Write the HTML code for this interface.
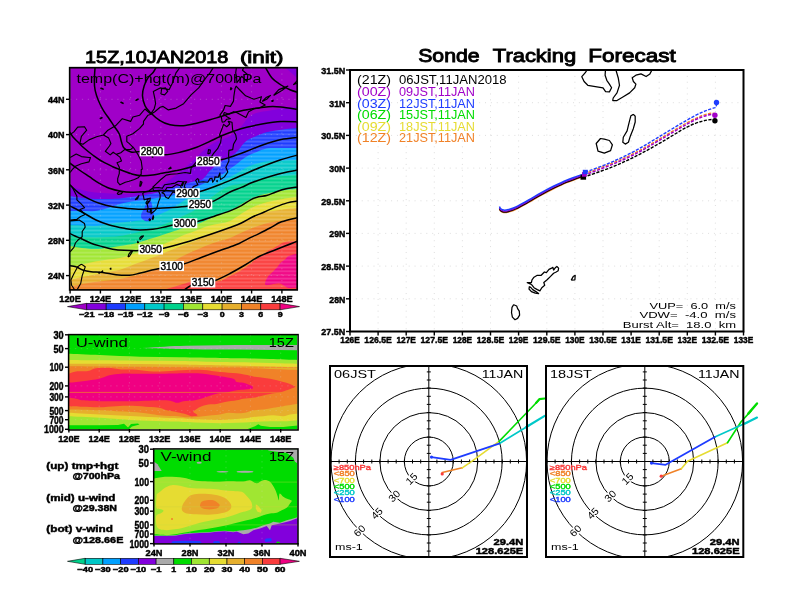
<!DOCTYPE html>
<html><head><meta charset="utf-8"><title>Sonde Tracking Forecast</title>
<style>html,body{margin:0;padding:0;background:#fff;overflow:hidden}svg{display:block}text{font-family:"Liberation Sans",sans-serif;white-space:pre}</style>
</head><body>
<svg width="792" height="612" viewBox="0 0 792 612" style="will-change:transform">
<rect width="792" height="612" fill="#fff"/>
<defs><clipPath id="cm"><rect x="70.1" y="67.6" width="226.9" height="222.1"/></clipPath></defs>
<g clip-path="url(#cm)">
<rect x="70.1" y="67.6" width="226.9" height="222.1" fill="#a000c8"/>
<path d="M70.0 186.0 C72.0 186.7 77.8 188.9 82.0 190.0 C86.2 191.1 90.3 191.9 95.0 192.5 C99.7 193.1 105.8 193.2 110.0 193.5 C114.2 193.8 115.8 194.0 120.0 194.0 C124.2 194.0 130.8 194.0 135.0 193.5 C139.2 193.0 140.8 192.2 145.0 191.0 C149.2 189.8 155.5 188.2 160.0 186.0 C164.5 183.8 167.8 181.0 172.0 178.0 C176.2 175.0 180.7 171.7 185.0 168.0 C189.3 164.3 194.8 158.8 197.8 156.0 C200.8 153.2 201.0 152.7 203.0 151.0 C205.0 149.3 207.4 147.3 209.6 145.8 C211.8 144.3 213.8 142.9 216.0 141.8 C218.2 140.7 220.5 140.1 222.7 139.2 C224.9 138.3 227.0 137.8 229.2 136.6 C231.4 135.4 234.1 133.4 235.8 132.0 C237.6 130.6 238.4 129.4 239.7 128.0 C241.0 126.6 242.3 125.1 243.6 123.5 C244.9 121.9 246.0 119.8 247.5 118.3 C249.0 116.8 250.5 115.5 252.7 114.4 C254.9 113.4 257.7 112.7 260.6 112.0 C263.5 111.3 266.3 111.1 270.0 110.5 C273.7 109.9 278.3 109.1 283.0 108.5 C287.7 107.9 295.5 107.2 298.0 107.0 L298.0 292 L70.0 292 Z" fill="#8200dc"/>
<path d="M70.0 196.0 C72.0 196.3 77.8 197.5 82.0 198.0 C86.2 198.5 90.3 198.8 95.0 199.0 C99.7 199.2 105.8 199.1 110.0 199.0 C114.2 198.9 115.8 198.9 120.0 198.5 C124.2 198.1 130.8 197.1 135.0 196.5 C139.2 195.9 140.8 195.8 145.0 195.0 C149.2 194.2 155.5 193.2 160.0 192.0 C164.5 190.8 167.8 189.3 172.0 188.0 C176.2 186.7 181.2 185.2 185.0 184.0 C188.8 182.8 192.0 181.8 195.0 181.0 C198.0 180.2 200.6 180.7 203.0 179.0 C205.4 177.3 207.4 173.3 209.6 171.0 C211.8 168.7 214.0 167.0 216.0 165.4 C218.0 163.8 219.6 162.5 221.4 161.4 C223.2 160.3 224.7 159.9 226.6 158.8 C228.5 157.7 231.0 156.4 233.0 155.0 C235.0 153.6 236.8 152.0 238.4 150.3 C240.0 148.6 240.8 146.7 242.3 145.0 C243.8 143.3 245.3 141.4 247.5 140.0 C249.7 138.6 252.8 137.6 255.4 136.5 C258.0 135.4 260.8 134.1 263.2 133.3 C265.6 132.5 266.7 132.1 270.0 131.5 C273.3 130.9 278.3 130.1 283.0 129.5 C287.7 128.9 295.5 128.2 298.0 128.0 L298.0 292 L70.0 292 Z" fill="#1e3cff"/>
<path d="M70.0 211.0 C72.0 211.0 77.8 211.0 82.0 211.0 C86.2 211.0 90.7 211.5 95.0 211.0 C99.3 210.5 103.8 209.2 108.0 208.0 C112.2 206.8 115.5 205.2 120.0 204.0 C124.5 202.8 130.8 201.7 135.0 201.0 C139.2 200.3 140.8 200.6 145.0 200.0 C149.2 199.4 155.8 198.2 160.0 197.5 C164.2 196.8 165.8 197.1 170.0 196.0 C174.2 194.9 180.8 192.4 185.0 191.0 C189.2 189.6 191.7 188.8 195.0 187.5 C198.3 186.2 201.5 184.5 205.0 183.0 C208.5 181.5 213.3 179.7 216.0 178.4 C218.7 177.1 219.6 176.2 221.4 175.0 C223.2 173.8 224.7 172.6 226.6 171.2 C228.5 169.8 231.0 168.1 233.0 166.7 C235.0 165.3 236.8 163.9 238.4 162.7 C240.0 161.5 240.8 160.6 242.3 159.5 C243.8 158.4 245.3 157.2 247.5 156.0 C249.7 154.8 252.8 153.6 255.4 152.5 C258.0 151.4 260.8 150.2 263.2 149.5 C265.6 148.8 266.7 148.2 270.0 148.0 C273.3 147.8 278.3 148.0 283.0 148.0 C287.7 148.0 295.5 148.0 298.0 148.0 L298.0 292 L70.0 292 Z" fill="#00a0ff"/>
<path d="M70.0 225.0 C72.0 225.1 77.8 225.3 82.0 225.5 C86.2 225.7 90.7 226.2 95.0 226.0 C99.3 225.8 103.8 224.6 108.0 224.0 C112.2 223.4 115.5 223.0 120.0 222.5 C124.5 222.0 130.8 221.5 135.0 221.0 C139.2 220.5 141.2 220.5 145.0 219.5 C148.8 218.5 153.8 216.7 158.0 215.0 C162.2 213.3 165.5 212.0 170.0 209.5 C174.5 207.0 180.8 202.6 185.0 200.0 C189.2 197.4 191.2 196.0 195.0 194.0 C198.8 192.0 203.8 190.0 208.0 188.0 C212.2 186.0 216.5 183.8 220.0 182.0 C223.5 180.2 226.6 178.8 229.2 177.4 C231.8 176.1 233.5 175.1 235.7 173.9 C237.9 172.7 240.3 171.2 242.3 170.0 C244.3 168.8 245.3 168.0 247.5 167.0 C249.7 166.0 252.8 164.8 255.4 164.0 C258.0 163.2 260.8 162.5 263.2 162.0 C265.6 161.5 266.7 161.2 270.0 161.0 C273.3 160.8 278.3 160.7 283.0 160.5 C287.7 160.3 295.5 160.1 298.0 160.0 L298.0 292 L70.0 292 Z" fill="#00c8c8"/>
<path d="M70.0 236.0 C72.0 236.2 77.8 236.8 82.0 237.0 C86.2 237.2 90.7 237.5 95.0 237.5 C99.3 237.5 103.8 237.2 108.0 237.0 C112.2 236.8 115.5 236.7 120.0 236.0 C124.5 235.3 130.8 234.0 135.0 233.0 C139.2 232.0 141.2 231.1 145.0 230.0 C148.8 228.9 153.8 227.8 158.0 226.5 C162.2 225.2 165.5 223.9 170.0 222.0 C174.5 220.1 180.8 217.0 185.0 215.0 C189.2 213.0 191.2 212.5 195.0 210.0 C198.8 207.5 203.8 203.2 208.0 200.0 C212.2 196.8 216.3 193.3 220.0 191.0 C223.7 188.7 226.7 187.2 230.0 186.0 C233.3 184.8 236.7 184.6 240.0 184.0 C243.3 183.4 247.2 183.2 250.0 182.5 C252.8 181.8 254.8 180.8 257.0 180.0 C259.2 179.2 260.8 178.5 263.0 178.0 C265.2 177.5 266.7 177.3 270.0 177.0 C273.3 176.7 278.3 176.3 283.0 176.0 C287.7 175.7 295.5 175.2 298.0 175.0 L298.0 292 L70.0 292 Z" fill="#00d28c"/>
<path d="M70.0 246.0 C72.0 246.3 77.8 247.5 82.0 248.0 C86.2 248.5 90.7 249.0 95.0 249.0 C99.3 249.0 103.8 248.5 108.0 248.0 C112.2 247.5 115.5 246.8 120.0 246.0 C124.5 245.2 130.8 244.4 135.0 243.5 C139.2 242.6 141.2 241.7 145.0 240.5 C148.8 239.3 153.8 237.8 158.0 236.5 C162.2 235.2 165.5 234.0 170.0 232.5 C174.5 231.0 180.8 228.8 185.0 227.5 C189.2 226.2 191.2 226.3 195.0 225.0 C198.8 223.7 203.8 221.3 208.0 219.5 C212.2 217.7 216.3 215.4 220.0 214.0 C223.7 212.6 225.8 213.0 230.0 211.0 C234.2 209.0 240.3 204.5 245.0 202.0 C249.7 199.5 253.8 197.5 258.0 196.0 C262.2 194.5 265.8 193.9 270.0 193.0 C274.2 192.1 278.3 191.2 283.0 190.5 C287.7 189.8 295.5 189.2 298.0 189.0 L298.0 292 L70.0 292 Z" fill="#a0e632"/>
<path d="M70.0 267.0 C72.0 266.6 77.8 265.4 82.0 264.5 C86.2 263.6 90.7 262.3 95.0 261.5 C99.3 260.7 103.8 260.1 108.0 259.5 C112.2 258.9 115.5 259.0 120.0 258.0 C124.5 257.0 130.8 254.8 135.0 253.5 C139.2 252.2 141.2 251.8 145.0 250.5 C148.8 249.2 153.8 247.5 158.0 246.0 C162.2 244.5 165.5 243.4 170.0 241.5 C174.5 239.6 180.8 236.2 185.0 234.5 C189.2 232.8 191.2 232.4 195.0 231.0 C198.8 229.6 203.8 227.2 208.0 226.0 C212.2 224.8 216.3 224.3 220.0 223.5 C223.7 222.7 225.8 223.0 230.0 221.0 C234.2 219.0 240.3 214.2 245.0 211.5 C249.7 208.8 253.8 206.7 258.0 205.0 C262.2 203.3 265.8 202.5 270.0 201.5 C274.2 200.5 278.3 199.8 283.0 199.0 C287.7 198.2 295.5 197.3 298.0 197.0 L298.0 292 L70.0 292 Z" fill="#e6dc32"/>
<path d="M70.0 280.0 C72.0 279.5 77.8 277.9 82.0 277.0 C86.2 276.1 90.7 275.3 95.0 274.5 C99.3 273.7 103.8 272.8 108.0 272.0 C112.2 271.2 115.5 271.1 120.0 269.8 C124.5 268.5 130.8 265.6 135.0 264.0 C139.2 262.4 141.2 261.9 145.0 260.5 C148.8 259.1 153.8 257.2 158.0 255.5 C162.2 253.8 165.5 252.3 170.0 250.5 C174.5 248.7 180.8 246.1 185.0 244.5 C189.2 242.9 191.2 242.6 195.0 241.0 C198.8 239.4 203.8 236.7 208.0 235.0 C212.2 233.3 216.3 232.2 220.0 231.0 C223.7 229.8 225.8 229.8 230.0 228.0 C234.2 226.2 240.3 222.8 245.0 220.5 C249.7 218.2 253.8 216.0 258.0 214.5 C262.2 213.0 265.8 212.3 270.0 211.5 C274.2 210.7 278.3 210.1 283.0 209.5 C287.7 208.9 295.5 208.2 298.0 208.0 L298.0 292 L70.0 292 Z" fill="#e6af2d"/>
<path d="M70.0 287.0 C72.0 286.5 77.8 284.8 82.0 284.0 C86.2 283.2 90.7 282.6 95.0 282.0 C99.3 281.4 103.8 281.0 108.0 280.5 C112.2 280.0 115.5 279.8 120.0 279.0 C124.5 278.2 130.8 276.5 135.0 275.5 C139.2 274.5 141.2 274.2 145.0 273.0 C148.8 271.8 153.8 270.2 158.0 268.5 C162.2 266.8 165.5 265.2 170.0 263.0 C174.5 260.8 180.8 257.1 185.0 255.0 C189.2 252.9 191.2 252.2 195.0 250.5 C198.8 248.8 203.8 246.6 208.0 245.0 C212.2 243.4 216.3 242.2 220.0 241.0 C223.7 239.8 225.8 239.7 230.0 238.0 C234.2 236.3 240.3 233.0 245.0 231.0 C249.7 229.0 253.8 227.4 258.0 226.0 C262.2 224.6 265.8 223.4 270.0 222.5 C274.2 221.6 278.3 221.1 283.0 220.5 C287.7 219.9 295.5 219.2 298.0 219.0 L298.0 292 L70.0 292 Z" fill="#f08228"/>
<path d="M160.0 291.0 C161.7 290.5 165.8 289.2 170.0 288.0 C174.2 286.8 180.8 284.8 185.0 283.5 C189.2 282.2 191.2 280.9 195.0 280.5 C198.8 280.1 203.8 280.9 208.0 281.0 C212.2 281.1 216.5 281.8 220.0 281.0 C223.5 280.2 225.9 278.0 229.0 276.5 C232.1 275.0 235.2 273.8 238.3 272.0 C241.4 270.2 244.8 267.9 247.5 266.0 C250.2 264.1 252.0 262.2 254.3 260.5 C256.6 258.8 258.9 257.6 261.2 256.0 C263.5 254.4 265.9 252.0 268.0 250.7 C270.1 249.4 271.9 249.0 273.8 248.0 C275.7 247.0 277.6 245.5 279.5 244.5 C281.4 243.5 282.1 242.6 285.2 242.0 C288.3 241.4 295.9 241.2 298.0 241.0 L298.0 292 L160.0 292 Z" fill="#fa3c3c"/>
<path d="M298.0 253.6 C296.4 254.0 290.7 255.1 288.6 256.0 C286.5 256.9 286.5 258.2 285.2 259.3 C283.9 260.4 281.9 261.5 280.6 262.8 C279.3 264.1 278.5 265.8 277.2 267.3 C275.9 268.8 274.1 270.5 272.6 272.0 C271.1 273.5 269.2 274.8 268.0 276.5 C266.8 278.2 265.6 280.8 265.2 282.2 C264.8 283.6 264.8 284.6 265.8 285.0 C266.9 285.4 269.2 284.8 271.5 284.5 C273.8 284.2 277.4 283.2 279.5 283.4 C281.6 283.6 282.5 284.8 284.0 285.6 C285.5 286.4 286.3 287.7 288.6 288.0 C290.9 288.3 296.4 287.5 298.0 287.4 Z" fill="#f00082"/>
<path d="M283 66 C288 70 293 74 298 79 L298 66 Z" fill="#8200dc"/>
<path d="M147 199 C151 199 153 204 152 209 C155 212 154 219 150 221 C146 222 141 220 141 216 C141 211 146 209 147 199 Z" fill="#1e3cff"/>
<defs><pattern id="st" width="4" height="1.37" patternUnits="userSpaceOnUse"><rect width="4" height="0.45" fill="#fff" fill-opacity="0.3"/></pattern></defs>
<path d="M70.0 196.0 C72.0 196.3 77.8 197.5 82.0 198.0 C86.2 198.5 90.3 198.8 95.0 199.0 C99.7 199.2 105.8 199.1 110.0 199.0 C114.2 198.9 115.8 198.9 120.0 198.5 C124.2 198.1 130.8 197.1 135.0 196.5 C139.2 195.9 140.8 195.8 145.0 195.0 C149.2 194.2 155.5 193.2 160.0 192.0 C164.5 190.8 167.8 189.3 172.0 188.0 C176.2 186.7 181.2 185.2 185.0 184.0 C188.8 182.8 192.0 181.8 195.0 181.0 C198.0 180.2 200.6 180.7 203.0 179.0 C205.4 177.3 207.4 173.3 209.6 171.0 C211.8 168.7 214.0 167.0 216.0 165.4 C218.0 163.8 219.6 162.5 221.4 161.4 C223.2 160.3 224.7 159.9 226.6 158.8 C228.5 157.7 231.0 156.4 233.0 155.0 C235.0 153.6 236.8 152.0 238.4 150.3 C240.0 148.6 240.8 146.7 242.3 145.0 C243.8 143.3 245.3 141.4 247.5 140.0 C249.7 138.6 252.8 137.6 255.4 136.5 C258.0 135.4 260.8 134.1 263.2 133.3 C265.6 132.5 266.7 132.1 270.0 131.5 C273.3 130.9 278.3 130.1 283.0 129.5 C287.7 128.9 295.5 128.2 298.0 128.0 L298 292 L70 292 Z" fill="url(#st)"/>
<line x1="100.4" y1="67.6" x2="100.4" y2="289.7" stroke="#dcdcdc" stroke-opacity="0.32" stroke-width="0.9" stroke-dasharray="1.2 4.7"/>
<line x1="130.6" y1="67.6" x2="130.6" y2="289.7" stroke="#dcdcdc" stroke-opacity="0.32" stroke-width="0.9" stroke-dasharray="1.2 4.7"/>
<line x1="160.9" y1="67.6" x2="160.9" y2="289.7" stroke="#dcdcdc" stroke-opacity="0.32" stroke-width="0.9" stroke-dasharray="1.2 4.7"/>
<line x1="191.1" y1="67.6" x2="191.1" y2="289.7" stroke="#dcdcdc" stroke-opacity="0.32" stroke-width="0.9" stroke-dasharray="1.2 4.7"/>
<line x1="221.4" y1="67.6" x2="221.4" y2="289.7" stroke="#dcdcdc" stroke-opacity="0.32" stroke-width="0.9" stroke-dasharray="1.2 4.7"/>
<line x1="251.6" y1="67.6" x2="251.6" y2="289.7" stroke="#dcdcdc" stroke-opacity="0.32" stroke-width="0.9" stroke-dasharray="1.2 4.7"/>
<line x1="281.9" y1="67.6" x2="281.9" y2="289.7" stroke="#dcdcdc" stroke-opacity="0.32" stroke-width="0.9" stroke-dasharray="1.2 4.7"/>
<line x1="70.1" y1="275.6" x2="297" y2="275.6" stroke="#dcdcdc" stroke-opacity="0.32" stroke-width="0.9" stroke-dasharray="1.2 4.7"/>
<line x1="70.1" y1="240.3" x2="297" y2="240.3" stroke="#dcdcdc" stroke-opacity="0.32" stroke-width="0.9" stroke-dasharray="1.2 4.7"/>
<line x1="70.1" y1="205.1" x2="297" y2="205.1" stroke="#dcdcdc" stroke-opacity="0.32" stroke-width="0.9" stroke-dasharray="1.2 4.7"/>
<line x1="70.1" y1="169.8" x2="297" y2="169.8" stroke="#dcdcdc" stroke-opacity="0.32" stroke-width="0.9" stroke-dasharray="1.2 4.7"/>
<line x1="70.1" y1="134.6" x2="297" y2="134.6" stroke="#dcdcdc" stroke-opacity="0.32" stroke-width="0.9" stroke-dasharray="1.2 4.7"/>
<line x1="70.1" y1="99.3" x2="297" y2="99.3" stroke="#dcdcdc" stroke-opacity="0.32" stroke-width="0.9" stroke-dasharray="1.2 4.7"/>
<path d="M152.5 187.5 L156.3 183.9 L160.9 179.5 L166.2 175.1 L170.7 174.2 L177.5 173.8 L185.1 172.5 L190.4 173.4 L191.1 168.1 L196.4 161.9 L197.2 158.4 L200.9 156.6 L199.4 160.1 L198.7 162.8 L205.5 161.0 L210.8 157.5 L213.8 153.1 L217.6 148.7 L220.6 142.5 L221.4 137.2 L219.5 135.0 L221.4 130.2 L223.6 124.4 L226.7 126.7 L229.7 124.0 L228.2 121.4 L232.0 122.2 L232.7 130.2 L235.7 134.6 L236.5 139.0 L233.5 144.3 L232.7 149.6 L228.9 150.4 L228.6 154.9 L228.9 161.0 L225.9 167.2 L227.8 172.0 L224.4 176.9 L220.6 179.5 L219.9 176.0 L219.9 172.9 L218.7 176.0 L218.3 177.3 L214.9 176.9 L214.6 179.5 L212.7 182.2 L211.9 178.2 L210.0 178.6 L207.8 182.2 L203.2 181.7 L198.7 182.2 L198.7 179.5 L197.5 178.6 L195.7 180.4 L197.9 184.8 L193.4 186.6 L189.6 191.9 L186.6 190.1 L184.3 186.6 L185.1 183.9 L186.6 181.7 L182.8 181.7 L178.3 181.3 L175.2 183.1 L170.7 183.9 L164.6 184.8 L162.4 188.3 L158.6 187.5 L153.3 187.9 L152.5 187.5M152.5 188.3 L154.1 191.0 L158.6 191.0 L160.1 194.5 L160.1 198.0 L158.6 201.6 L156.7 208.6 L154.1 211.3 L151.0 213.9 L151.4 210.4 L150.3 208.6 L150.6 212.1 L147.2 211.7 L148.0 207.7 L147.2 204.2 L149.9 200.7 L150.3 198.0 L147.2 199.8 L148.4 198.5 L144.2 199.8 L143.5 196.3 L142.7 193.6 L144.6 191.9 L148.8 191.0 L152.5 188.3M161.6 192.8 L165.0 191.0 L166.9 187.5 L172.2 187.5 L176.7 184.4 L180.5 185.7 L181.7 189.2 L177.5 193.6 L173.0 191.9 L168.4 198.5 L165.8 197.2 L163.9 193.6 L161.6 192.8M222.1 122.2 L221.4 117.0 L219.9 115.2 L223.6 109.9 L225.1 105.5 L230.4 106.4 L233.5 101.1 L233.8 96.7 L235.0 88.8 L236.1 86.1 L240.3 90.5 L245.6 95.8 L253.9 99.3 L261.5 96.7 L259.9 102.0 L265.2 105.1 L259.2 108.1 L254.6 108.6 L248.6 111.7 L245.9 117.4 L236.5 112.5 L233.5 111.7 L228.9 114.3 L224.4 112.5 L223.6 114.3 L227.4 117.0 L230.4 118.7 L226.7 119.2 L224.4 121.8 L222.1 122.2M70.1 134.6 L73.9 131.9 L77.7 127.1 L84.5 126.7 L86.7 130.2 L81.4 136.3 L79.9 143.4 L83.0 144.3 L89.0 139.9 L96.6 136.8 L103.4 135.0 L108.7 138.1 L110.9 143.4 L109.4 146.0 L105.3 151.3 L110.2 154.9 L113.2 152.2 L116.2 154.4 L120.0 157.1 L121.5 161.0 L117.0 162.8 L119.3 167.2 L119.3 173.4 L117.7 178.6 L117.7 182.2 L120.0 184.8 L125.3 182.2 L129.1 181.3 L134.4 179.5 L138.2 177.8 L141.2 174.2 L141.2 169.8 L142.3 169.0 L141.2 161.0 L138.2 154.9 L133.6 147.8 L129.1 143.4 L126.8 141.6 L126.8 136.3 L132.9 133.7 L139.7 128.4 L143.5 124.0 L143.5 121.4 L148.0 115.2 L151.0 114.3 L154.8 111.7 L160.1 107.3 L163.1 106.4 L168.4 109.9 L176.0 108.1 L183.6 103.7 L191.1 94.9 L198.7 87.9 L206.2 77.3 L210.0 72.9 L213.8 66.7M70.1 157.5 L76.2 154.0 L81.4 156.6 L89.0 157.5 L90.5 157.5 L89.0 161.9 L81.4 163.7 L75.4 166.3 L72.4 169.4 L70.1 172.5M70.1 184.8 L72.4 187.5 L76.9 196.3 L76.9 199.8 L81.4 204.2 L84.5 207.7 L79.9 209.5 L84.5 213.9 L84.5 214.8 L80.7 216.5 L76.9 219.2 L70.1 220.1M70.1 221.0 L79.2 220.1 L84.5 223.6 L85.2 227.1 L82.2 231.5 L82.2 236.8 L77.7 240.3 L75.4 243.0 L73.9 247.4 L70.1 251.8M81.4 264.1 L85.2 266.8 L84.1 270.3 L82.2 275.6 L80.7 283.5 L76.9 290.1 L76.5 294.1 L74.6 289.7 L71.6 285.3 L70.9 280.0 L73.9 273.8 L77.7 266.8 L81.4 264.1M236.5 66.7 L235.7 72.9 L236.5 76.4 L236.9 82.6 L241.8 76.4 L247.1 81.7 L247.8 74.7 L242.5 70.2 L244.1 66.7M117.0 193.6 L119.3 191.4 L122.7 191.9 L121.5 193.6 L118.5 194.5 L117.0 193.6M139.7 186.6 L140.4 181.3 L142.0 182.2 L140.8 185.7 L139.7 186.6M207.8 154.0 L208.5 149.6 L210.4 150.0 L210.0 153.1 L207.8 154.0M128.0 257.1 L128.7 254.4 L130.6 251.8 L132.9 250.5 L131.4 253.1 L129.5 256.2 L128.0 257.1M139.3 238.6 L141.2 236.4 L143.5 235.9 L141.6 238.1 L140.4 239.5 L139.3 238.6M137.4 243.0 L137.8 241.2 L138.5 242.5 L137.4 243.0M148.8 220.1 L149.5 218.8 L150.6 219.6 L149.9 220.7 L148.8 220.1M152.2 219.2 L153.3 215.7 L153.7 217.4 L152.9 219.6 L152.2 219.2M135.1 199.8 L136.7 198.0 L138.9 195.4 L137.4 198.9 L135.1 199.8M101.1 272.5 L102.6 270.8 L102.6 272.5 L101.1 272.5M98.1 273.0 L99.2 272.1 L99.6 273.1 L98.1 273.0M109.8 269.0 L110.9 268.1 L110.9 269.3 L109.8 269.0M262.2 101.5 L266.0 97.6 L270.5 95.4 L266.7 99.3 L262.2 101.5M273.6 95.4 L278.8 89.6 L287.9 86.1 L281.9 90.5 L273.6 95.4M293.2 84.8 L297.0 80.8 L300.8 79.9 L297.0 83.0 L293.2 84.8M271.3 101.1 L273.2 100.2 L272.8 101.5 L271.3 101.1M230.1 89.6 L231.2 88.3 L231.2 89.6 L230.1 89.6M168.4 169.0 L170.7 167.2 L171.1 168.5 L168.4 169.0M151.8 157.1 L152.5 156.2 L152.9 157.1 L151.8 157.1M181.3 185.3 L182.8 182.2 L183.6 182.6 L182.4 185.7 L181.3 185.3M145.7 203.3 L147.2 200.7 L148.8 201.6 L146.5 203.8 L145.7 203.3M216.5 181.3 L217.2 180.4 L217.2 181.7 L216.5 181.3M103.4 135.0 L107.9 130.2 L115.5 125.8 L122.3 118.7 L130.6 121.4 L132.9 117.0 L139.7 115.2 L145.0 109.0 L151.0 114.3M151.0 113.4 L154.1 109.0 L155.6 103.7 L154.8 98.4 L153.3 91.4 L160.1 87.9 L169.2 89.6 L172.2 83.5 L176.0 72.9 L180.5 66.7M160.9 94.0 L161.6 88.8 L165.4 87.9 L167.7 91.4 L164.6 94.9 L160.9 94.0M116.2 154.4 L120.8 152.7 L124.6 149.6 L130.6 149.6 L133.6 146.9" fill="none" stroke="#000" stroke-width="1.15" stroke-linejoin="round"/>
<path d="M101 88.3 l2 0.8 M121 102.3 l2 1 M136 100.2 l2 -1 M100.3 118.5 l1.6 -0.8 M230.7 88 l1 0.6" stroke="#000" stroke-width="1.6" stroke-linecap="round" fill="none"/>
<path d="M264.7 66.0 C265.9 68.0 269.3 74.8 272.0 78.0 C274.7 81.2 278.0 83.0 281.0 85.0 C284.0 87.0 287.2 88.5 290.0 89.7 C292.8 90.9 296.7 92.0 298.0 92.4" fill="none" stroke="#000" stroke-width="1.5"/>
<path d="M156.7 66.0 C156.1 67.0 154.7 70.4 153.3 72.3 C151.9 74.2 149.8 75.1 148.3 77.3 C146.8 79.5 145.2 82.6 144.2 85.7 C143.2 88.8 142.4 92.4 142.5 95.7 C142.6 99.0 143.8 102.9 145.0 105.7 C146.2 108.5 147.5 109.8 150.0 112.3 C152.5 114.8 156.7 118.6 160.0 120.7 C163.3 122.8 166.1 124.0 170.0 124.8 C173.9 125.6 178.9 126.0 183.3 125.7 C187.8 125.4 192.2 124.2 196.7 123.2 C201.1 122.2 206.1 120.9 210.0 119.8 C213.9 118.7 215.7 118.1 220.0 116.8 C224.3 115.5 230.3 113.4 236.0 112.0 C241.7 110.6 248.6 109.4 254.0 108.5 C259.4 107.6 263.8 107.0 268.3 106.7 C272.8 106.5 276.1 106.5 281.0 107.0 C285.9 107.5 295.2 109.0 298.0 109.4" fill="none" stroke="#000" stroke-width="1.5"/>
<path d="M95.2 66.0 C95.0 68.5 94.3 76.6 94.3 80.7 C94.3 84.8 94.5 87.4 95.2 90.7 C95.9 94.0 97.1 97.4 98.5 100.7 C99.9 104.0 101.7 107.7 103.5 110.7 C105.3 113.8 107.5 116.4 109.3 119.0 C111.1 121.6 112.6 124.0 114.3 126.5 C116.0 129.0 118.1 131.4 119.3 134.0 C120.5 136.6 120.7 139.7 121.5 142.0 C122.3 144.3 122.4 146.3 124.0 148.0 C125.6 149.7 128.3 151.4 131.0 152.0 C133.7 152.6 136.5 151.6 140.0 151.5 C143.5 151.4 148.0 150.8 152.0 151.3 C156.0 151.9 159.5 154.6 164.2 154.8 C168.9 155.0 174.6 153.6 180.0 152.3 C185.4 151.1 191.1 149.4 196.7 147.3 C202.2 145.2 209.1 141.7 213.3 139.8 C217.5 137.9 218.1 137.2 221.7 135.7 C225.3 134.2 230.8 132.1 235.0 130.7 C239.2 129.3 242.2 128.4 246.7 127.3 C251.2 126.2 256.3 125.0 262.0 124.0 C267.7 123.0 275.0 121.8 281.0 121.5 C287.0 121.2 295.2 121.9 298.0 122.0" fill="none" stroke="#000" stroke-width="1.5"/>
<path d="M69.0 131.0 C69.7 132.0 71.5 135.2 73.0 137.0 C74.5 138.8 75.8 139.8 77.7 141.7 C79.6 143.6 81.8 146.1 84.3 148.3 C86.8 150.5 89.6 152.8 92.7 155.0 C95.8 157.2 99.4 159.8 102.7 161.7 C106.0 163.6 109.7 165.3 112.7 166.7 C115.8 168.1 117.7 168.8 121.0 170.0 C124.3 171.2 129.1 173.2 132.7 174.2 C136.3 175.2 139.4 175.7 142.7 175.8 C146.0 175.9 148.8 175.6 152.7 175.0 C156.6 174.4 161.0 173.5 166.0 172.5 C171.0 171.5 177.4 170.4 182.7 169.2 C188.0 167.9 193.8 166.3 198.0 165.0 C202.2 163.7 204.2 162.4 208.0 161.5 C211.8 160.6 217.1 160.5 220.8 159.8 C224.5 159.1 225.7 158.7 230.0 157.3 C234.3 155.9 241.4 153.3 246.7 151.3 C252.0 149.3 256.3 147.2 262.0 145.2 C267.7 143.2 275.0 140.8 281.0 139.5 C287.0 138.2 295.2 137.7 298.0 137.3" fill="none" stroke="#000" stroke-width="1.5"/>
<path d="M69.0 162.5 C70.7 163.8 75.9 167.6 79.3 170.0 C82.7 172.4 86.0 174.5 89.3 176.7 C92.6 178.9 96.0 181.4 99.3 183.3 C102.6 185.2 105.7 187.0 109.3 188.3 C112.9 189.6 117.1 190.6 121.0 191.3 C124.9 192.0 128.5 192.2 132.7 192.3 C136.9 192.4 141.6 192.0 146.0 191.7 C150.4 191.4 154.6 190.6 159.3 190.5 C164.0 190.4 169.6 190.6 174.3 191.0 C179.0 191.4 183.2 192.9 187.5 193.0 C191.8 193.1 194.6 192.9 200.0 191.5 C205.4 190.1 213.3 187.1 220.0 184.5 C226.7 181.9 233.3 178.8 240.0 176.0 C246.7 173.2 253.3 170.2 260.0 167.5 C266.7 164.8 273.7 162.1 280.0 160.0 C286.3 157.9 295.0 155.8 298.0 155.0" fill="none" stroke="#000" stroke-width="1.5"/>
<path d="M69.0 184.0 C70.7 185.6 75.9 190.8 79.3 193.3 C82.7 195.8 86.0 197.5 89.3 199.2 C92.6 200.9 95.4 202.1 99.3 203.3 C103.2 204.6 108.2 205.9 112.7 206.7 C117.2 207.5 121.3 207.9 126.0 208.3 C130.7 208.7 136.0 209.2 141.0 209.2 C146.0 209.2 150.7 208.6 156.0 208.3 C161.3 208.0 167.3 207.9 172.7 207.5 C178.1 207.1 183.9 206.6 188.5 206.0 C193.1 205.4 196.0 204.8 200.0 204.0 C204.0 203.2 207.5 203.5 212.5 201.5 C217.5 199.5 225.2 194.3 230.0 192.0 C234.8 189.7 237.6 189.0 241.4 187.4 C245.2 185.8 248.1 184.1 252.9 182.3 C257.7 180.5 264.6 178.1 270.0 176.5 C275.4 174.9 280.3 173.6 285.0 172.5 C289.7 171.4 295.8 170.4 298.0 170.0" fill="none" stroke="#000" stroke-width="1.5"/>
<path d="M69.0 205.5 C71.3 206.7 78.2 210.1 82.7 212.5 C87.2 214.9 91.6 217.9 96.0 220.0 C100.4 222.1 104.6 223.6 109.3 225.0 C114.0 226.4 119.8 227.5 124.3 228.3 C128.8 229.1 131.3 229.7 136.0 229.8 C140.7 230.0 147.7 229.7 152.7 229.2 C157.7 228.7 162.5 227.4 166.0 226.7 C169.5 226.0 170.5 225.6 173.7 225.0 C176.9 224.4 181.0 223.6 185.0 223.0 C189.0 222.4 192.5 222.7 197.5 221.5 C202.5 220.3 209.6 217.8 215.0 216.0 C220.4 214.2 225.6 212.6 230.0 210.9 C234.4 209.2 238.0 207.5 241.4 205.7 C244.8 203.8 247.7 201.3 250.6 199.8 C253.5 198.3 255.9 197.5 258.6 196.8 C261.3 196.1 263.7 196.3 266.6 195.5 C269.5 194.7 272.4 193.2 275.8 192.0 C279.2 190.8 283.5 189.4 287.2 188.6 C290.9 187.8 296.2 187.3 298.0 187.0" fill="none" stroke="#000" stroke-width="1.5"/>
<path d="M69.0 233.0 C70.0 233.5 73.0 235.1 75.0 236.0 C77.0 236.9 78.3 237.3 81.0 238.5 C83.7 239.7 87.4 241.9 91.0 243.3 C94.6 244.7 99.1 245.7 102.7 246.7 C106.3 247.7 109.1 248.6 112.7 249.2 C116.3 249.8 120.0 250.1 124.3 250.3 C128.6 250.5 134.3 250.7 138.7 250.6 C143.1 250.5 146.7 250.2 150.7 249.8 C154.7 249.5 156.8 249.7 162.5 248.5 C168.2 247.3 177.1 244.8 185.0 242.5 C192.9 240.2 202.5 237.0 210.0 234.5 C217.5 232.0 224.8 229.4 230.0 227.5 C235.2 225.6 237.6 224.8 241.4 223.0 C245.2 221.2 249.1 218.6 252.9 216.8 C256.7 215.0 260.5 213.7 264.3 212.0 C268.1 210.3 272.0 208.4 275.8 206.9 C279.6 205.4 283.5 203.9 287.2 202.9 C290.9 201.9 296.2 201.3 298.0 201.0" fill="none" stroke="#000" stroke-width="1.5"/>
<path d="M69.0 265.5 C70.2 265.7 73.7 265.9 76.0 266.7 C78.3 267.4 80.2 269.2 82.7 270.0 C85.2 270.8 87.7 271.3 91.0 271.7 C94.3 272.1 98.5 272.0 102.7 272.5 C106.9 273.0 111.6 274.2 116.0 274.7 C120.4 275.2 125.4 275.5 129.3 275.3 C133.2 275.1 136.0 274.1 139.3 273.3 C142.6 272.6 145.9 271.6 149.3 270.8 C152.8 270.0 156.3 269.3 160.0 268.5 C163.7 267.7 167.8 266.8 171.7 266.0 C175.6 265.2 178.6 265.5 183.7 264.0 C188.8 262.5 196.4 259.2 202.5 257.0 C208.6 254.8 215.4 252.2 220.0 250.5 C224.6 248.8 226.8 248.2 230.0 247.0 C233.2 245.8 236.1 244.9 239.2 243.5 C242.2 242.1 245.1 240.2 248.3 238.6 C251.5 237.0 255.0 235.6 258.6 233.8 C262.2 232.0 266.2 230.0 270.0 228.0 C273.8 226.0 276.8 223.6 281.5 221.8 C286.2 220.1 295.2 218.2 298.0 217.5" fill="none" stroke="#000" stroke-width="1.5"/>
<path d="M183.0 291.0 C184.3 290.1 187.7 286.9 191.0 285.5 C194.3 284.1 199.0 283.3 203.0 282.5 C207.0 281.7 210.5 282.0 215.0 280.5 C219.5 279.0 225.0 276.1 230.0 273.5 C235.0 270.9 240.0 267.9 245.0 265.0 C250.0 262.1 255.0 258.5 260.0 256.0 C265.0 253.5 270.8 251.7 275.0 250.0 C279.2 248.3 281.2 247.5 285.0 246.0 C288.8 244.5 295.8 241.8 298.0 241.0" fill="none" stroke="#000" stroke-width="1.5"/>
</g>
<rect x="139.7" y="146.3" width="24.6" height="10" fill="#fff"/>
<text x="152.0" y="154.9" font-size="10.20" font-weight="normal" text-anchor="middle" fill="#000" textLength="22.5" lengthAdjust="spacingAndGlyphs" stroke="#000" stroke-width="0.4">2800</text>
<rect x="196.0" y="156.5" width="24.6" height="10" fill="#fff"/>
<text x="208.3" y="165.1" font-size="10.20" font-weight="normal" text-anchor="middle" fill="#000" textLength="22.5" lengthAdjust="spacingAndGlyphs" stroke="#000" stroke-width="0.4">2850</text>
<rect x="175.2" y="188.3" width="24.6" height="10" fill="#fff"/>
<text x="187.5" y="196.9" font-size="10.20" font-weight="normal" text-anchor="middle" fill="#000" textLength="22.5" lengthAdjust="spacingAndGlyphs" stroke="#000" stroke-width="0.4">2900</text>
<rect x="187.7" y="199.3" width="24.6" height="10" fill="#fff"/>
<text x="200.0" y="207.9" font-size="10.20" font-weight="normal" text-anchor="middle" fill="#000" textLength="22.5" lengthAdjust="spacingAndGlyphs" stroke="#000" stroke-width="0.4">2950</text>
<rect x="172.7" y="218.3" width="24.6" height="10" fill="#fff"/>
<text x="185.0" y="226.9" font-size="10.20" font-weight="normal" text-anchor="middle" fill="#000" textLength="22.5" lengthAdjust="spacingAndGlyphs" stroke="#000" stroke-width="0.4">3000</text>
<rect x="138.4" y="244.5" width="24.6" height="10" fill="#fff"/>
<text x="150.7" y="253.1" font-size="10.20" font-weight="normal" text-anchor="middle" fill="#000" textLength="22.5" lengthAdjust="spacingAndGlyphs" stroke="#000" stroke-width="0.4">3050</text>
<rect x="159.4" y="261.0" width="24.6" height="10" fill="#fff"/>
<text x="171.7" y="269.6" font-size="10.20" font-weight="normal" text-anchor="middle" fill="#000" textLength="22.5" lengthAdjust="spacingAndGlyphs" stroke="#000" stroke-width="0.4">3100</text>
<rect x="190.7" y="277.5" width="24.6" height="10" fill="#fff"/>
<text x="203.0" y="286.1" font-size="10.20" font-weight="normal" text-anchor="middle" fill="#000" textLength="22.5" lengthAdjust="spacingAndGlyphs" stroke="#000" stroke-width="0.4">3150</text>
<rect x="69.7" y="67.7" width="227.5" height="222.2" fill="none" stroke="#000" stroke-width="1.7"/>
<line x1="66" y1="275.6" x2="70" y2="275.6" stroke="#000" stroke-width="1.4"/>
<text x="64.5" y="279.3" font-size="9.50" font-weight="bold" text-anchor="end" fill="#000" textLength="16.5" lengthAdjust="spacingAndGlyphs"  stroke="#000" stroke-width="0.45">24N</text>
<line x1="66" y1="240.3" x2="70" y2="240.3" stroke="#000" stroke-width="1.4"/>
<text x="64.5" y="244.0" font-size="9.50" font-weight="bold" text-anchor="end" fill="#000" textLength="16.5" lengthAdjust="spacingAndGlyphs"  stroke="#000" stroke-width="0.45">28N</text>
<line x1="66" y1="205.1" x2="70" y2="205.1" stroke="#000" stroke-width="1.4"/>
<text x="64.5" y="208.8" font-size="9.50" font-weight="bold" text-anchor="end" fill="#000" textLength="16.5" lengthAdjust="spacingAndGlyphs"  stroke="#000" stroke-width="0.45">32N</text>
<line x1="66" y1="169.8" x2="70" y2="169.8" stroke="#000" stroke-width="1.4"/>
<text x="64.5" y="173.5" font-size="9.50" font-weight="bold" text-anchor="end" fill="#000" textLength="16.5" lengthAdjust="spacingAndGlyphs"  stroke="#000" stroke-width="0.45">36N</text>
<line x1="66" y1="134.6" x2="70" y2="134.6" stroke="#000" stroke-width="1.4"/>
<text x="64.5" y="138.3" font-size="9.50" font-weight="bold" text-anchor="end" fill="#000" textLength="16.5" lengthAdjust="spacingAndGlyphs"  stroke="#000" stroke-width="0.45">40N</text>
<line x1="66" y1="99.3" x2="70" y2="99.3" stroke="#000" stroke-width="1.4"/>
<text x="64.5" y="103.0" font-size="9.50" font-weight="bold" text-anchor="end" fill="#000" textLength="16.5" lengthAdjust="spacingAndGlyphs"  stroke="#000" stroke-width="0.45">44N</text>
<line x1="70.1" y1="289.7" x2="70.1" y2="293.5" stroke="#000" stroke-width="1.4"/>
<text x="70.1" y="302.0" font-size="9.50" font-weight="bold" text-anchor="middle" fill="#000" textLength="21.5" lengthAdjust="spacingAndGlyphs"  stroke="#000" stroke-width="0.45">120E</text>
<line x1="100.4" y1="289.7" x2="100.4" y2="293.5" stroke="#000" stroke-width="1.4"/>
<text x="100.4" y="302.0" font-size="9.50" font-weight="bold" text-anchor="middle" fill="#000" textLength="21.5" lengthAdjust="spacingAndGlyphs"  stroke="#000" stroke-width="0.45">124E</text>
<line x1="130.6" y1="289.7" x2="130.6" y2="293.5" stroke="#000" stroke-width="1.4"/>
<text x="130.6" y="302.0" font-size="9.50" font-weight="bold" text-anchor="middle" fill="#000" textLength="21.5" lengthAdjust="spacingAndGlyphs"  stroke="#000" stroke-width="0.45">128E</text>
<line x1="160.9" y1="289.7" x2="160.9" y2="293.5" stroke="#000" stroke-width="1.4"/>
<text x="160.9" y="302.0" font-size="9.50" font-weight="bold" text-anchor="middle" fill="#000" textLength="21.5" lengthAdjust="spacingAndGlyphs"  stroke="#000" stroke-width="0.45">132E</text>
<line x1="191.1" y1="289.7" x2="191.1" y2="293.5" stroke="#000" stroke-width="1.4"/>
<text x="191.1" y="302.0" font-size="9.50" font-weight="bold" text-anchor="middle" fill="#000" textLength="21.5" lengthAdjust="spacingAndGlyphs"  stroke="#000" stroke-width="0.45">136E</text>
<line x1="221.4" y1="289.7" x2="221.4" y2="293.5" stroke="#000" stroke-width="1.4"/>
<text x="221.4" y="302.0" font-size="9.50" font-weight="bold" text-anchor="middle" fill="#000" textLength="21.5" lengthAdjust="spacingAndGlyphs"  stroke="#000" stroke-width="0.45">140E</text>
<line x1="251.6" y1="289.7" x2="251.6" y2="293.5" stroke="#000" stroke-width="1.4"/>
<text x="251.6" y="302.0" font-size="9.50" font-weight="bold" text-anchor="middle" fill="#000" textLength="21.5" lengthAdjust="spacingAndGlyphs"  stroke="#000" stroke-width="0.45">144E</text>
<line x1="281.9" y1="289.7" x2="281.9" y2="293.5" stroke="#000" stroke-width="1.4"/>
<text x="281.9" y="302.0" font-size="9.50" font-weight="bold" text-anchor="middle" fill="#000" textLength="21.5" lengthAdjust="spacingAndGlyphs"  stroke="#000" stroke-width="0.45">148E</text>
<text x="85.1" y="62.8" font-size="17.00" font-weight="normal" text-anchor="start" fill="#000" textLength="143.2" lengthAdjust="spacingAndGlyphs" stroke="#000" stroke-width="0.9">15Z,10JAN2018</text>
<text x="239.9" y="62.8" font-size="17.00" font-weight="normal" text-anchor="start" fill="#000" textLength="43.6" lengthAdjust="spacingAndGlyphs" stroke="#000" stroke-width="0.9">(init)</text>
<text x="76.5" y="82.8" font-size="12.00" font-weight="normal" text-anchor="start" fill="#000" textLength="185.0" lengthAdjust="spacingAndGlyphs" >temp(C)+hgt(m)@700hPa</text>
<path d="M67.5 306.6 L86.8 303.3 L86.8 309.8 Z" fill="#a000c8" stroke="#000" stroke-width="0.6"/>
<rect x="86.8" y="303.3" width="19.3" height="6.5" fill="#8200dc" stroke="#000" stroke-width="0.6"/>
<rect x="106.2" y="303.3" width="19.3" height="6.5" fill="#1e3cff" stroke="#000" stroke-width="0.6"/>
<rect x="125.5" y="303.3" width="19.3" height="6.5" fill="#00a0ff" stroke="#000" stroke-width="0.6"/>
<rect x="144.8" y="303.3" width="19.3" height="6.5" fill="#00c8c8" stroke="#000" stroke-width="0.6"/>
<rect x="164.1" y="303.3" width="19.3" height="6.5" fill="#00d28c" stroke="#000" stroke-width="0.6"/>
<rect x="183.5" y="303.3" width="19.3" height="6.5" fill="#a0e632" stroke="#000" stroke-width="0.6"/>
<rect x="202.8" y="303.3" width="19.3" height="6.5" fill="#e6dc32" stroke="#000" stroke-width="0.6"/>
<rect x="222.1" y="303.3" width="19.3" height="6.5" fill="#e6af2d" stroke="#000" stroke-width="0.6"/>
<rect x="241.5" y="303.3" width="19.3" height="6.5" fill="#f08228" stroke="#000" stroke-width="0.6"/>
<rect x="260.8" y="303.3" width="19.3" height="6.5" fill="#fa3c3c" stroke="#000" stroke-width="0.6"/>
<path d="M299.5 306.6 L280.1 303.3 L280.1 309.8 Z" fill="#f00082" stroke="#000" stroke-width="0.6"/>
<text x="86.8" y="317.0" font-size="7.50" font-weight="bold" text-anchor="middle" fill="#000" textLength="15.7" lengthAdjust="spacingAndGlyphs"  stroke="#000" stroke-width="0.45">−21</text>
<text x="106.2" y="317.0" font-size="7.50" font-weight="bold" text-anchor="middle" fill="#000" textLength="15.7" lengthAdjust="spacingAndGlyphs"  stroke="#000" stroke-width="0.45">−18</text>
<text x="125.5" y="317.0" font-size="7.50" font-weight="bold" text-anchor="middle" fill="#000" textLength="15.7" lengthAdjust="spacingAndGlyphs"  stroke="#000" stroke-width="0.45">−15</text>
<text x="144.8" y="317.0" font-size="7.50" font-weight="bold" text-anchor="middle" fill="#000" textLength="15.7" lengthAdjust="spacingAndGlyphs"  stroke="#000" stroke-width="0.45">−12</text>
<text x="164.1" y="317.0" font-size="7.50" font-weight="bold" text-anchor="middle" fill="#000" textLength="10.8" lengthAdjust="spacingAndGlyphs"  stroke="#000" stroke-width="0.45">−9</text>
<text x="183.5" y="317.0" font-size="7.50" font-weight="bold" text-anchor="middle" fill="#000" textLength="10.8" lengthAdjust="spacingAndGlyphs"  stroke="#000" stroke-width="0.45">−6</text>
<text x="202.8" y="317.0" font-size="7.50" font-weight="bold" text-anchor="middle" fill="#000" textLength="10.8" lengthAdjust="spacingAndGlyphs"  stroke="#000" stroke-width="0.45">−3</text>
<text x="222.1" y="317.0" font-size="7.50" font-weight="bold" text-anchor="middle" fill="#000" textLength="4.9" lengthAdjust="spacingAndGlyphs"  stroke="#000" stroke-width="0.45">0</text>
<text x="241.5" y="317.0" font-size="7.50" font-weight="bold" text-anchor="middle" fill="#000" textLength="4.9" lengthAdjust="spacingAndGlyphs"  stroke="#000" stroke-width="0.45">3</text>
<text x="260.8" y="317.0" font-size="7.50" font-weight="bold" text-anchor="middle" fill="#000" textLength="4.9" lengthAdjust="spacingAndGlyphs"  stroke="#000" stroke-width="0.45">6</text>
<text x="280.1" y="317.0" font-size="7.50" font-weight="bold" text-anchor="middle" fill="#000" textLength="4.9" lengthAdjust="spacingAndGlyphs"  stroke="#000" stroke-width="0.45">9</text>
<defs><clipPath id="cu"><rect x="68.9" y="334.8" width="228.4" height="94.5"/></clipPath></defs>
<g clip-path="url(#cu)">
<rect x="68.9" y="334.8" width="228.4" height="94.5" fill="#00dc00"/>
<path d="M68.0 353.7 C73.3 353.9 88.0 354.5 100.0 355.0 C112.0 355.5 126.7 356.3 140.0 356.7 C153.3 357.1 166.7 357.1 180.0 357.3 C193.3 357.5 209.2 357.8 220.0 358.0 C230.8 358.2 236.7 358.1 245.0 358.3 C253.3 358.5 261.0 358.7 270.0 359.0 C279.0 359.3 294.2 359.8 299.0 360.0 L299.0 431.0 L68.0 431.0 Z" fill="#a0e632"/>
<path d="M68.0 360.0 C73.3 360.1 88.0 360.2 100.0 360.3 C112.0 360.4 126.7 360.6 140.0 360.7 C153.3 360.8 166.7 360.8 180.0 361.0 C193.3 361.2 209.2 361.8 220.0 362.0 C230.8 362.2 236.7 362.1 245.0 362.3 C253.3 362.5 261.0 362.8 270.0 363.0 C279.0 363.2 294.2 363.7 299.0 363.8 L299.0 420.3 C296.9 420.4 291.5 421.1 286.7 421.2 C281.9 421.3 275.6 421.1 270.0 421.2 C264.4 421.3 258.9 421.7 253.3 422.0 C247.8 422.3 242.2 422.6 236.7 422.8 C231.1 423.0 225.6 423.3 220.0 423.3 C214.4 423.3 208.9 423.0 203.3 422.8 C197.8 422.6 192.2 422.2 186.7 422.0 C181.1 421.8 177.8 421.8 170.0 421.5 C162.2 421.2 151.7 421.1 140.0 420.5 C128.3 419.9 112.0 418.5 100.0 417.8 C88.0 417.1 73.3 416.5 68.0 416.2 Z" fill="#e6dc32"/>
<path d="M68.0 363.7 C73.3 363.7 88.0 363.6 100.0 363.7 C112.0 363.8 126.7 363.9 140.0 364.0 C153.3 364.1 166.7 364.3 180.0 364.5 C193.3 364.7 209.2 365.1 220.0 365.3 C230.8 365.5 236.7 365.6 245.0 365.8 C253.3 366.0 261.0 366.2 270.0 366.5 C279.0 366.8 294.2 367.3 299.0 367.5 L299.0 413.7 C297.5 413.8 292.6 414.1 290.0 414.5 C287.4 414.9 286.1 416.1 283.3 416.2 C280.5 416.3 276.6 415.3 273.3 415.3 C270.0 415.3 266.6 415.9 263.3 416.2 C260.0 416.5 256.4 416.6 253.3 417.0 C250.2 417.4 247.8 418.0 245.0 418.3 C242.2 418.6 240.9 418.7 236.7 419.0 C232.5 419.3 225.6 419.9 220.0 420.0 C214.4 420.1 208.9 419.7 203.3 419.5 C197.8 419.3 192.2 418.9 186.7 418.7 C181.1 418.4 177.8 418.4 170.0 418.0 C162.2 417.6 151.7 417.1 140.0 416.5 C128.3 415.9 112.0 415.1 100.0 414.5 C88.0 413.9 73.3 413.1 68.0 412.8 Z" fill="#e6af2d"/>
<path d="M68.0 366.2 C73.3 366.2 88.0 366.4 100.0 366.5 C112.0 366.6 126.7 366.7 140.0 366.8 C153.3 366.9 166.7 367.1 180.0 367.3 C193.3 367.5 209.2 367.7 220.0 367.8 C230.8 367.9 236.7 367.8 245.0 368.0 C253.3 368.2 261.0 368.7 270.0 369.0 C279.0 369.3 294.2 369.8 299.0 370.0 L299.0 403.7 C296.4 404.1 287.6 405.5 283.3 406.2 C279.0 406.9 276.6 407.2 273.3 407.8 C270.0 408.4 266.6 409.1 263.3 409.5 C260.0 409.9 256.4 409.8 253.3 410.3 C250.2 410.9 247.8 412.3 245.0 412.8 C242.2 413.3 239.5 413.3 236.7 413.3 C233.9 413.3 231.1 412.6 228.3 412.8 C225.5 413.0 222.8 414.1 220.0 414.5 C217.2 414.9 214.5 415.0 211.7 415.3 C208.9 415.6 206.1 415.9 203.3 416.2 C200.5 416.5 197.8 417.1 195.0 417.3 C192.2 417.5 189.2 417.4 186.7 417.3 C184.2 417.2 182.8 416.7 180.0 416.5 C177.2 416.3 173.4 416.2 170.0 416.0 C166.6 415.8 162.8 415.7 159.3 415.3 C155.9 414.9 153.7 414.2 149.3 413.7 C144.9 413.1 138.2 412.4 132.7 412.0 C127.1 411.6 121.6 411.5 116.0 411.2 C110.4 410.9 107.3 410.6 99.3 410.3 C91.3 410.0 73.2 409.6 68.0 409.5 Z" fill="#f08228"/>
<path d="M68 425.3 L100 425.3 L118 425 L124 423.8 L128 427.5 L131 424 L138 423.5 L139.5 424.5 L132 426.5 L128 430 L68 430 Z" fill="#00dc00"/>
<path d="M246 430 L248.3 428.7 L255 426.2 L258.3 424.2 L260.8 425.7 L270 427 L283.3 427 L290 426.2 L299 425.3 L299 430 Z" fill="#00dc00"/>
<path d="M68.0 374.0 C69.3 373.6 72.7 372.0 76.0 371.5 C79.3 371.0 84.7 371.5 88.0 371.0 C91.3 370.5 92.7 368.8 96.0 368.3 C99.3 367.8 103.8 367.6 108.0 367.8 C112.2 368.0 116.9 369.2 121.0 369.5 C125.1 369.8 128.0 369.2 132.7 369.5 C137.4 369.8 143.4 370.9 149.0 371.2 C154.6 371.5 159.7 371.4 166.0 371.2 C172.3 371.0 180.5 370.2 186.7 370.0 C192.9 369.8 197.8 369.7 203.3 370.0 C208.9 370.3 214.4 371.4 220.0 372.0 C225.6 372.6 231.7 372.7 236.7 373.3 C241.7 373.9 246.7 375.1 250.0 375.7 C253.3 376.3 253.4 376.5 256.7 377.0 C260.0 377.5 265.6 377.9 270.0 378.7 C274.4 379.5 280.0 381.1 283.3 382.0 C286.6 382.9 288.0 383.2 290.0 384.0 C292.0 384.8 294.4 386.1 295.3 386.5 L295.3 387.0 C293.9 387.6 289.5 389.3 286.7 390.3 C283.9 391.3 281.1 392.2 278.3 392.8 C275.5 393.4 273.1 393.4 270.0 394.0 C266.9 394.6 262.8 395.6 260.0 396.2 C257.2 396.8 256.1 397.4 253.3 397.8 C250.5 398.2 246.1 398.3 243.3 398.7 C240.5 399.1 239.8 399.8 236.7 400.3 C233.6 400.9 228.3 401.4 225.0 402.0 C221.7 402.6 219.5 403.6 216.7 404.0 C213.9 404.4 211.1 404.0 208.3 404.5 C205.5 405.0 202.2 406.0 200.0 407.0 C197.8 408.0 196.1 409.5 195.0 410.3 C193.9 411.1 192.9 411.2 193.3 412.0 C193.7 412.8 197.8 414.6 197.5 415.3 C197.2 416.0 193.5 416.3 191.7 416.2 C189.9 416.1 188.6 415.1 186.7 414.5 C184.8 413.9 182.1 413.3 180.0 412.8 C177.9 412.3 176.3 412.0 174.0 411.5 C171.7 411.0 168.4 410.6 166.0 410.0 C163.6 409.4 162.1 408.3 159.3 407.8 C156.5 407.3 153.7 407.3 149.3 407.0 C144.9 406.7 138.2 405.9 132.7 405.8 C127.1 405.7 121.6 405.9 116.0 406.2 C110.4 406.4 104.8 407.2 99.3 407.3 C93.8 407.4 87.9 406.9 82.7 406.7 C77.5 406.5 70.5 406.3 68.0 406.2 Z" fill="#fa3c3c"/>
<path d="M68.0 382.8 C70.5 382.5 77.5 381.9 82.7 381.2 C87.9 380.5 94.9 379.7 99.3 378.7 C103.7 377.7 105.7 376.1 109.3 375.3 C112.9 374.5 117.1 374.0 121.0 373.7 C124.9 373.4 125.2 373.7 132.7 373.7 C140.2 373.7 157.0 373.8 166.0 373.7 C175.0 373.6 180.5 373.3 186.7 373.3 C192.9 373.3 197.8 373.2 203.3 373.7 C208.9 374.2 215.0 375.4 220.0 376.2 C225.0 377.0 230.5 377.7 233.3 378.7 C236.1 379.7 235.0 381.3 236.7 382.0 C238.4 382.7 241.4 382.4 243.3 382.8 C245.2 383.2 246.7 383.9 248.3 384.5 C249.9 385.1 252.1 385.9 252.8 386.2 L252.8 388.7 C251.5 388.8 247.7 389.2 245.0 389.5 C242.3 389.8 240.0 389.8 236.7 390.3 C233.4 390.9 228.3 392.2 225.0 392.8 C221.7 393.4 219.5 393.1 216.7 393.7 C213.9 394.3 211.9 395.1 208.3 396.2 C204.7 397.3 199.2 399.5 195.0 400.3 C190.8 401.1 186.4 400.8 183.3 401.2 C180.2 401.6 179.6 402.9 176.7 402.8 C173.8 402.7 173.3 400.6 166.0 400.3 C158.7 400.0 143.8 401.1 132.7 401.2 C121.6 401.3 107.6 401.3 99.3 401.2 C91.0 401.1 86.6 400.7 82.7 400.3 C78.8 399.9 78.5 399.1 76.0 398.7 C73.5 398.3 69.3 397.9 68.0 397.8 Z" fill="#f00082"/>
<path d="M142 348 C160 347 170 346 186 345.7 L236 345 L299 345 L299 350.3 L236 349.5 L203 349.5 C180 349 160 348.6 142 348 Z" fill="#aaaaaa"/>
<line x1="68" y1="367.4" x2="299" y2="367.4" stroke="#f08228" stroke-width="0.8" stroke-opacity="0.8"/>
<line x1="68" y1="392.4" x2="299" y2="392.4" stroke="#f08228" stroke-width="0.8" stroke-opacity="0.9"/>
<line x1="99.2" y1="334.8" x2="99.2" y2="429.3" stroke="#dcdcdc" stroke-opacity="0.22" stroke-width="1" stroke-dasharray="1.5 4.4"/>
<line x1="129.4" y1="334.8" x2="129.4" y2="429.3" stroke="#dcdcdc" stroke-opacity="0.22" stroke-width="1" stroke-dasharray="1.5 4.4"/>
<line x1="159.7" y1="334.8" x2="159.7" y2="429.3" stroke="#dcdcdc" stroke-opacity="0.22" stroke-width="1" stroke-dasharray="1.5 4.4"/>
<line x1="189.9" y1="334.8" x2="189.9" y2="429.3" stroke="#dcdcdc" stroke-opacity="0.22" stroke-width="1" stroke-dasharray="1.5 4.4"/>
<line x1="220.2" y1="334.8" x2="220.2" y2="429.3" stroke="#dcdcdc" stroke-opacity="0.22" stroke-width="1" stroke-dasharray="1.5 4.4"/>
<line x1="250.4" y1="334.8" x2="250.4" y2="429.3" stroke="#dcdcdc" stroke-opacity="0.22" stroke-width="1" stroke-dasharray="1.5 4.4"/>
<line x1="280.7" y1="334.8" x2="280.7" y2="429.3" stroke="#dcdcdc" stroke-opacity="0.22" stroke-width="1" stroke-dasharray="1.5 4.4"/>
<line x1="68.9" y1="348.6" x2="297.3" y2="348.6" stroke="#dcdcdc" stroke-opacity="0.2" stroke-width="1" stroke-dasharray="1.5 4.4"/>
<line x1="68.9" y1="367.2" x2="297.3" y2="367.2" stroke="#dcdcdc" stroke-opacity="0.2" stroke-width="1" stroke-dasharray="1.5 4.4"/>
<line x1="68.9" y1="385.9" x2="297.3" y2="385.9" stroke="#dcdcdc" stroke-opacity="0.2" stroke-width="1" stroke-dasharray="1.5 4.4"/>
<line x1="68.9" y1="396.9" x2="297.3" y2="396.9" stroke="#dcdcdc" stroke-opacity="0.2" stroke-width="1" stroke-dasharray="1.5 4.4"/>
<line x1="68.9" y1="410.6" x2="297.3" y2="410.6" stroke="#dcdcdc" stroke-opacity="0.2" stroke-width="1" stroke-dasharray="1.5 4.4"/>
<line x1="68.9" y1="419.7" x2="297.3" y2="419.7" stroke="#dcdcdc" stroke-opacity="0.2" stroke-width="1" stroke-dasharray="1.5 4.4"/>
</g>
<rect x="68.6" y="334.6" width="229.5" height="95.4" fill="none" stroke="#000" stroke-width="1.5"/>
<line x1="65" y1="334.8" x2="69" y2="334.8" stroke="#000" stroke-width="1.4"/>
<text x="63.6" y="338.8" font-size="11.00" font-weight="bold" text-anchor="end" fill="#000" textLength="10.2" lengthAdjust="spacingAndGlyphs"  stroke="#000" stroke-width="0.45">30</text>
<line x1="65" y1="348.6" x2="69" y2="348.6" stroke="#000" stroke-width="1.4"/>
<text x="63.6" y="352.6" font-size="11.00" font-weight="bold" text-anchor="end" fill="#000" textLength="10.2" lengthAdjust="spacingAndGlyphs"  stroke="#000" stroke-width="0.45">50</text>
<line x1="65" y1="367.2" x2="69" y2="367.2" stroke="#000" stroke-width="1.4"/>
<text x="63.6" y="371.2" font-size="11.00" font-weight="bold" text-anchor="end" fill="#000" textLength="14.2" lengthAdjust="spacingAndGlyphs"  stroke="#000" stroke-width="0.45">100</text>
<line x1="65" y1="385.9" x2="69" y2="385.9" stroke="#000" stroke-width="1.4"/>
<text x="63.6" y="389.9" font-size="11.00" font-weight="bold" text-anchor="end" fill="#000" textLength="14.2" lengthAdjust="spacingAndGlyphs"  stroke="#000" stroke-width="0.45">200</text>
<line x1="65" y1="396.9" x2="69" y2="396.9" stroke="#000" stroke-width="1.4"/>
<text x="63.6" y="400.9" font-size="11.00" font-weight="bold" text-anchor="end" fill="#000" textLength="14.2" lengthAdjust="spacingAndGlyphs"  stroke="#000" stroke-width="0.45">300</text>
<line x1="65" y1="410.6" x2="69" y2="410.6" stroke="#000" stroke-width="1.4"/>
<text x="63.6" y="414.6" font-size="11.00" font-weight="bold" text-anchor="end" fill="#000" textLength="14.2" lengthAdjust="spacingAndGlyphs"  stroke="#000" stroke-width="0.45">500</text>
<line x1="65" y1="419.7" x2="69" y2="419.7" stroke="#000" stroke-width="1.4"/>
<text x="63.6" y="423.7" font-size="11.00" font-weight="bold" text-anchor="end" fill="#000" textLength="14.2" lengthAdjust="spacingAndGlyphs"  stroke="#000" stroke-width="0.45">700</text>
<line x1="65" y1="429.3" x2="69" y2="429.3" stroke="#000" stroke-width="1.4"/>
<text x="63.6" y="433.3" font-size="11.00" font-weight="bold" text-anchor="end" fill="#000" textLength="19.6" lengthAdjust="spacingAndGlyphs"  stroke="#000" stroke-width="0.45">1000</text>
<line x1="68.9" y1="429" x2="68.9" y2="432.5" stroke="#000" stroke-width="1.4"/>
<text x="68.9" y="441.8" font-size="9.50" font-weight="bold" text-anchor="middle" fill="#000" textLength="21.5" lengthAdjust="spacingAndGlyphs"  stroke="#000" stroke-width="0.45">120E</text>
<line x1="99.2" y1="429" x2="99.2" y2="432.5" stroke="#000" stroke-width="1.4"/>
<text x="99.2" y="441.8" font-size="9.50" font-weight="bold" text-anchor="middle" fill="#000" textLength="21.5" lengthAdjust="spacingAndGlyphs"  stroke="#000" stroke-width="0.45">124E</text>
<line x1="129.4" y1="429" x2="129.4" y2="432.5" stroke="#000" stroke-width="1.4"/>
<text x="129.4" y="441.8" font-size="9.50" font-weight="bold" text-anchor="middle" fill="#000" textLength="21.5" lengthAdjust="spacingAndGlyphs"  stroke="#000" stroke-width="0.45">128E</text>
<line x1="159.7" y1="429" x2="159.7" y2="432.5" stroke="#000" stroke-width="1.4"/>
<text x="159.7" y="441.8" font-size="9.50" font-weight="bold" text-anchor="middle" fill="#000" textLength="21.5" lengthAdjust="spacingAndGlyphs"  stroke="#000" stroke-width="0.45">132E</text>
<line x1="189.9" y1="429" x2="189.9" y2="432.5" stroke="#000" stroke-width="1.4"/>
<text x="189.9" y="441.8" font-size="9.50" font-weight="bold" text-anchor="middle" fill="#000" textLength="21.5" lengthAdjust="spacingAndGlyphs"  stroke="#000" stroke-width="0.45">136E</text>
<line x1="220.2" y1="429" x2="220.2" y2="432.5" stroke="#000" stroke-width="1.4"/>
<text x="220.2" y="441.8" font-size="9.50" font-weight="bold" text-anchor="middle" fill="#000" textLength="21.5" lengthAdjust="spacingAndGlyphs"  stroke="#000" stroke-width="0.45">140E</text>
<line x1="250.4" y1="429" x2="250.4" y2="432.5" stroke="#000" stroke-width="1.4"/>
<text x="250.4" y="441.8" font-size="9.50" font-weight="bold" text-anchor="middle" fill="#000" textLength="21.5" lengthAdjust="spacingAndGlyphs"  stroke="#000" stroke-width="0.45">144E</text>
<line x1="280.7" y1="429" x2="280.7" y2="432.5" stroke="#000" stroke-width="1.4"/>
<text x="280.7" y="441.8" font-size="9.50" font-weight="bold" text-anchor="middle" fill="#000" textLength="21.5" lengthAdjust="spacingAndGlyphs"  stroke="#000" stroke-width="0.45">148E</text>
<text x="75.8" y="347.0" font-size="13.00" font-weight="normal" text-anchor="start" fill="#000" textLength="52.0" lengthAdjust="spacingAndGlyphs" >U-wind</text>
<text x="268.8" y="347.0" font-size="13.00" font-weight="normal" text-anchor="start" fill="#000" textLength="25.0" lengthAdjust="spacingAndGlyphs" >15Z</text>
<defs><clipPath id="cv"><rect x="154" y="449.2" width="143.6" height="94.4"/></clipPath></defs>
<g clip-path="url(#cv)">
<rect x="154" y="449.2" width="143.6" height="94.4" fill="#00dc00"/>
<path d="M152.0 478.8 C152.4 478.8 151.8 478.8 154.2 478.5 C156.6 478.2 161.8 476.9 166.7 476.8 C171.5 476.7 178.9 477.1 183.3 477.7 C187.7 478.3 189.7 479.6 193.3 480.2 C196.9 480.8 201.1 481.0 205.0 481.3 C208.9 481.6 212.5 481.8 216.7 481.8 C220.9 481.8 225.6 481.4 230.0 481.3 C234.4 481.2 240.0 481.7 243.3 481.5 C246.6 481.3 247.8 479.9 250.0 480.2 C252.2 480.5 254.5 483.3 256.7 483.3 C258.9 483.3 261.1 480.4 263.3 480.2 C265.5 479.9 268.1 480.3 270.0 481.8 C271.9 483.3 273.8 486.9 275.0 489.3 C276.2 491.7 276.9 494.2 277.5 496.0 C278.1 497.8 278.3 500.6 278.7 500.2 C279.1 499.8 278.9 494.1 279.7 493.5 C280.5 492.9 281.9 495.8 283.3 496.8 C284.7 497.8 286.9 498.7 288.3 499.3 C289.7 499.9 291.4 500.0 291.7 500.7 C292.0 501.4 290.8 502.3 290.0 503.5 C289.2 504.7 288.1 506.6 286.7 507.7 C285.3 508.8 283.4 509.4 281.7 510.2 C280.0 511.0 278.6 512.2 276.7 512.7 C274.8 513.2 272.2 513.1 270.0 513.5 C267.8 513.9 265.5 514.5 263.3 515.2 C261.1 515.9 259.5 516.9 256.7 517.7 C253.9 518.5 250.0 519.4 246.7 520.2 C243.4 521.0 240.0 521.9 236.7 522.7 C233.4 523.5 230.0 524.4 226.7 525.2 C223.4 526.0 220.3 526.6 216.7 527.3 C213.1 528.0 208.9 528.7 205.0 529.3 C201.1 529.9 196.9 530.4 193.3 531.0 C189.7 531.6 186.4 532.2 183.3 532.7 C180.2 533.2 177.8 533.9 175.0 534.3 C172.2 534.7 170.2 535.2 166.7 535.2 C163.2 535.2 156.6 534.4 154.2 534.3 C151.8 534.1 152.4 543.5 152.0 534.3 C151.6 525.0 152.0 488.1 152.0 478.8 Z" fill="#a0e632"/>
<path d="M156.7 494.3 C157.2 493.9 158.6 492.9 160.0 491.8 C161.4 490.7 163.1 488.8 165.0 487.7 C166.9 486.6 169.2 485.5 171.7 485.2 C174.2 484.9 177.2 485.3 180.0 485.7 C182.8 486.1 185.0 487.2 188.3 487.7 C191.6 488.2 195.8 488.3 200.0 488.5 C204.2 488.7 209.4 488.7 213.3 489.0 C217.2 489.3 220.0 489.9 223.3 490.2 C226.6 490.5 230.2 490.7 233.3 491.0 C236.4 491.3 239.5 491.0 241.7 491.8 C243.9 492.6 245.2 494.5 246.7 496.0 C248.2 497.5 249.9 499.6 250.8 501.0 C251.7 502.4 251.8 503.1 252.0 504.3 C252.2 505.6 252.6 507.4 251.7 508.5 C250.8 509.6 248.6 510.3 246.7 511.0 C244.8 511.7 242.2 512.0 240.0 512.7 C237.8 513.4 235.8 514.4 233.3 515.2 C230.8 516.0 227.8 517.0 225.0 517.7 C222.2 518.4 219.5 518.8 216.7 519.3 C213.9 519.8 211.1 520.4 208.3 521.0 C205.5 521.6 202.8 522.0 200.0 522.7 C197.2 523.4 194.5 524.4 191.7 525.2 C188.9 526.0 186.1 527.0 183.3 527.7 C180.5 528.4 177.8 528.9 175.0 529.3 C172.2 529.7 169.2 530.2 166.7 530.2 C164.2 530.2 161.7 530.0 160.0 529.3 C158.3 528.6 157.3 528.2 156.7 526.0 C156.1 523.8 155.4 518.2 156.2 516.0 C157.0 513.8 160.5 513.7 161.7 512.7 C162.9 511.7 163.9 510.9 163.3 510.2 C162.7 509.5 159.5 509.1 158.3 508.5 C157.1 507.9 156.5 508.9 156.2 506.5 C155.9 504.1 156.6 496.3 156.7 494.3 Z" fill="#e6dc32"/>
<path d="M255.8 504.3 L258.3 506 L261.7 510.2 L260.8 512.7 L257.5 511.8 L255.8 508.5 Z" fill="#e6dc32"/>
<path d="M181.7 508.5 C182.0 507.7 182.1 505.5 183.3 503.5 C184.6 501.5 187.0 497.9 189.2 496.3 C191.4 494.7 193.5 494.4 196.7 494.0 C199.9 493.6 204.4 493.7 208.3 494.0 C212.2 494.3 216.9 495.1 220.0 496.0 C223.1 496.9 224.9 497.9 226.7 499.3 C228.5 500.7 230.1 502.8 230.8 504.3 C231.5 505.8 231.5 507.2 230.8 508.5 C230.1 509.8 228.5 511.0 226.7 511.8 C224.9 512.6 223.1 513.0 220.0 513.5 C216.9 514.0 212.2 514.6 208.3 514.7 C204.4 514.8 200.3 514.5 196.7 514.3 C193.1 514.1 189.1 514.0 186.7 513.5 C184.3 513.0 183.3 511.8 182.5 511.0 C181.7 510.2 181.8 508.9 181.7 508.5 Z" fill="#e6af2d"/>
<path d="M200.0 505.2 C200.3 504.6 200.6 502.6 201.7 501.8 C202.8 501.0 204.8 500.5 206.7 500.2 C208.6 499.9 211.5 499.8 213.3 500.2 C215.1 500.6 216.4 501.9 217.5 502.7 C218.6 503.5 219.7 504.3 219.7 505.2 C219.7 506.1 218.8 507.3 217.5 508.0 C216.2 508.7 213.8 509.1 211.7 509.3 C209.6 509.5 206.8 509.3 205.0 509.0 C203.2 508.7 201.6 507.9 200.8 507.3 C200.0 506.7 200.1 505.6 200.0 505.2 Z" fill="#f08228"/>
<circle cx="172" cy="519" r="1" fill="#f08228"/>
<path d="M153 461.5 L154.2 461.8 L157.5 464.3 L161.7 471 L153 471 Z" fill="#aaaaaa"/>
<ellipse cx="199.2" cy="462.7" rx="2.6" ry="1" fill="#aaaaaa"/>
<ellipse cx="222.5" cy="471.8" rx="6" ry="0.8" fill="#aaaaaa"/>
<ellipse cx="245" cy="471.8" rx="8.5" ry="1" fill="#aaaaaa"/>
<path d="M268.3 448.5 L299 448.5 L299 464.3 L295 461.8 L293.3 457.7 L286.7 452.7 L276.7 451.8 L268.3 450.4 Z" fill="#aaaaaa"/>
<path d="M152.0 535.5 L166.7 535.5 L175.0 535.2 L183.3 533.8 L191.7 533.0 L200.0 532.5 L208.3 532.2 L216.7 531.3 L225.0 530.8 L233.3 531.5 L240.0 530.6 L243.3 530.2 L250.0 529.3 L256.7 527.7 L263.3 525.2 L270.0 523.5 L273.3 521.8 L280.0 522.7 L286.7 520.2 L293.3 518.5 L299.0 516.6 L300 545 L150 545 Z" fill="#aaaaaa"/>
<path d="M152.0 536.0 L166.7 536.0 L175.0 535.7 L183.3 534.3 L191.7 533.5 L200.0 533.0 L208.3 532.7 L216.7 531.8 L225.0 531.3 L233.3 532.3 L236.7 531.5 L243.3 534.3 L248.3 533.5 L253.3 530.2 L260.0 528.5 L266.7 526.0 L270.0 530.2 L271.7 525.2 L276.7 524.3 L283.3 522.7 L290.0 521.0 L299.0 517.5 L300 545 L150 545 Z" fill="#8200dc"/>
<path d="M171 543.5 L172.5 541.3 L185 540.8 L200 541 L202 543.5 Z" fill="#1e3cff"/>
<path d="M212.8 543.5 L213.8 541.2 L219 541 L220.5 543.5 Z" fill="#1e3cff"/>
<path d="M237.3 543.5 L238.2 541.8 L240.3 541.8 L241 543.5 Z" fill="#1e3cff"/>
<path d="M264.5 540 L266 538.5 L271.3 538.3 L271.7 541.3 L265.5 542 Z" fill="#1e3cff"/>
<path d="M275.8 543.5 L277 541.5 L279.5 541.8 L280 543.5 Z" fill="#00dc00"/>
<line x1="190.0" y1="449.2" x2="190.0" y2="543.6" stroke="#dcdcdc" stroke-opacity="0.2" stroke-width="1" stroke-dasharray="1.5 4.4"/>
<line x1="226.0" y1="449.2" x2="226.0" y2="543.6" stroke="#dcdcdc" stroke-opacity="0.2" stroke-width="1" stroke-dasharray="1.5 4.4"/>
<line x1="262.0" y1="449.2" x2="262.0" y2="543.6" stroke="#dcdcdc" stroke-opacity="0.2" stroke-width="1" stroke-dasharray="1.5 4.4"/>
<line x1="150" y1="482.1" x2="300" y2="482.1" stroke="#c8e040" stroke-width="0.7" stroke-opacity="0.5"/>
<line x1="150" y1="506.8" x2="300" y2="506.8" stroke="#c8d040" stroke-width="0.7" stroke-opacity="0.5"/>
<line x1="150" y1="524.9" x2="300" y2="524.9" stroke="#c8e040" stroke-width="0.7" stroke-opacity="0.45"/>
</g>
<rect x="153.7" y="448.9" width="144.3" height="95" fill="none" stroke="#000" stroke-width="1.5"/>
<line x1="150" y1="449.2" x2="154" y2="449.2" stroke="#000" stroke-width="1.4"/>
<text x="149.0" y="453.2" font-size="11.00" font-weight="bold" text-anchor="end" fill="#000" textLength="10.4" lengthAdjust="spacingAndGlyphs"  stroke="#000" stroke-width="0.45">30</text>
<line x1="150" y1="463.0" x2="154" y2="463.0" stroke="#000" stroke-width="1.4"/>
<text x="149.0" y="467.0" font-size="11.00" font-weight="bold" text-anchor="end" fill="#000" textLength="10.4" lengthAdjust="spacingAndGlyphs"  stroke="#000" stroke-width="0.45">50</text>
<line x1="150" y1="481.6" x2="154" y2="481.6" stroke="#000" stroke-width="1.4"/>
<text x="149.0" y="485.6" font-size="11.00" font-weight="bold" text-anchor="end" fill="#000" textLength="14.5" lengthAdjust="spacingAndGlyphs"  stroke="#000" stroke-width="0.45">100</text>
<line x1="150" y1="500.3" x2="154" y2="500.3" stroke="#000" stroke-width="1.4"/>
<text x="149.0" y="504.3" font-size="11.00" font-weight="bold" text-anchor="end" fill="#000" textLength="14.5" lengthAdjust="spacingAndGlyphs"  stroke="#000" stroke-width="0.45">200</text>
<line x1="150" y1="511.2" x2="154" y2="511.2" stroke="#000" stroke-width="1.4"/>
<text x="149.0" y="515.2" font-size="11.00" font-weight="bold" text-anchor="end" fill="#000" textLength="14.5" lengthAdjust="spacingAndGlyphs"  stroke="#000" stroke-width="0.45">300</text>
<line x1="150" y1="524.9" x2="154" y2="524.9" stroke="#000" stroke-width="1.4"/>
<text x="149.0" y="528.9" font-size="11.00" font-weight="bold" text-anchor="end" fill="#000" textLength="14.5" lengthAdjust="spacingAndGlyphs"  stroke="#000" stroke-width="0.45">500</text>
<line x1="150" y1="534.0" x2="154" y2="534.0" stroke="#000" stroke-width="1.4"/>
<text x="149.0" y="538.0" font-size="11.00" font-weight="bold" text-anchor="end" fill="#000" textLength="14.5" lengthAdjust="spacingAndGlyphs"  stroke="#000" stroke-width="0.45">700</text>
<line x1="150" y1="543.6" x2="154" y2="543.6" stroke="#000" stroke-width="1.4"/>
<text x="149.0" y="547.6" font-size="11.00" font-weight="bold" text-anchor="end" fill="#000" textLength="19.6" lengthAdjust="spacingAndGlyphs"  stroke="#000" stroke-width="0.45">1000</text>
<line x1="154.0" y1="543" x2="154.0" y2="546.5" stroke="#000" stroke-width="1.4"/>
<text x="154.0" y="555.5" font-size="9.50" font-weight="bold" text-anchor="middle" fill="#000" textLength="17.0" lengthAdjust="spacingAndGlyphs"  stroke="#000" stroke-width="0.45">24N</text>
<line x1="190.0" y1="543" x2="190.0" y2="546.5" stroke="#000" stroke-width="1.4"/>
<text x="190.0" y="555.5" font-size="9.50" font-weight="bold" text-anchor="middle" fill="#000" textLength="17.0" lengthAdjust="spacingAndGlyphs"  stroke="#000" stroke-width="0.45">28N</text>
<line x1="226.0" y1="543" x2="226.0" y2="546.5" stroke="#000" stroke-width="1.4"/>
<text x="226.0" y="555.5" font-size="9.50" font-weight="bold" text-anchor="middle" fill="#000" textLength="17.0" lengthAdjust="spacingAndGlyphs"  stroke="#000" stroke-width="0.45">32N</text>
<line x1="262.0" y1="543" x2="262.0" y2="546.5" stroke="#000" stroke-width="1.4"/>
<text x="262.0" y="555.5" font-size="9.50" font-weight="bold" text-anchor="middle" fill="#000" textLength="17.0" lengthAdjust="spacingAndGlyphs"  stroke="#000" stroke-width="0.45">36N</text>
<line x1="298.0" y1="543" x2="298.0" y2="546.5" stroke="#000" stroke-width="1.4"/>
<text x="298.0" y="555.5" font-size="9.50" font-weight="bold" text-anchor="middle" fill="#000" textLength="17.0" lengthAdjust="spacingAndGlyphs"  stroke="#000" stroke-width="0.45">40N</text>
<text x="160.5" y="460.5" font-size="13.00" font-weight="normal" text-anchor="start" fill="#000" textLength="51.0" lengthAdjust="spacingAndGlyphs" >V-wind</text>
<text x="269.0" y="460.5" font-size="13.00" font-weight="normal" text-anchor="start" fill="#000" textLength="25.0" lengthAdjust="spacingAndGlyphs" >15Z</text>
<text x="46.3" y="468.5" font-size="9.50" font-weight="bold" text-anchor="start" fill="#000" textLength="72.0" lengthAdjust="spacingAndGlyphs"  stroke="#000" stroke-width="0.45">(up) tmp+hgt</text>
<text x="72.4" y="479.2" font-size="9.50" font-weight="bold" text-anchor="start" fill="#000" textLength="47.6" lengthAdjust="spacingAndGlyphs"  stroke="#000" stroke-width="0.45">@700hPa</text>
<text x="46.3" y="500.5" font-size="9.50" font-weight="bold" text-anchor="start" fill="#000" textLength="69.2" lengthAdjust="spacingAndGlyphs"  stroke="#000" stroke-width="0.45">(mid) u-wind</text>
<text x="72.4" y="511.3" font-size="9.50" font-weight="bold" text-anchor="start" fill="#000" textLength="44.6" lengthAdjust="spacingAndGlyphs"  stroke="#000" stroke-width="0.45">@29.38N</text>
<text x="46.3" y="532.0" font-size="9.50" font-weight="bold" text-anchor="start" fill="#000" textLength="66.7" lengthAdjust="spacingAndGlyphs"  stroke="#000" stroke-width="0.45">(bot) v-wind</text>
<text x="72.4" y="542.6" font-size="9.50" font-weight="bold" text-anchor="start" fill="#000" textLength="51.0" lengthAdjust="spacingAndGlyphs"  stroke="#000" stroke-width="0.45">@128.66E</text>
<path d="M67.5 561.3 L85.2 558.3 L85.2 564.3 Z" fill="#00d28c" stroke="#000" stroke-width="0.6"/>
<rect x="85.2" y="558.3" width="17.7" height="6.0" fill="#00c8c8" stroke="#000" stroke-width="0.6"/>
<rect x="102.9" y="558.3" width="17.7" height="6.0" fill="#00a0ff" stroke="#000" stroke-width="0.6"/>
<rect x="120.7" y="558.3" width="17.7" height="6.0" fill="#1e3cff" stroke="#000" stroke-width="0.6"/>
<rect x="138.4" y="558.3" width="17.7" height="6.0" fill="#8200dc" stroke="#000" stroke-width="0.6"/>
<rect x="156.1" y="558.3" width="17.7" height="6.0" fill="#aaaaaa" stroke="#000" stroke-width="0.6"/>
<rect x="173.8" y="558.3" width="17.7" height="6.0" fill="#00dc00" stroke="#000" stroke-width="0.6"/>
<rect x="191.5" y="558.3" width="17.7" height="6.0" fill="#a0e632" stroke="#000" stroke-width="0.6"/>
<rect x="209.3" y="558.3" width="17.7" height="6.0" fill="#e6dc32" stroke="#000" stroke-width="0.6"/>
<rect x="227.0" y="558.3" width="17.7" height="6.0" fill="#e6af2d" stroke="#000" stroke-width="0.6"/>
<rect x="244.7" y="558.3" width="17.7" height="6.0" fill="#f08228" stroke="#000" stroke-width="0.6"/>
<rect x="262.4" y="558.3" width="17.7" height="6.0" fill="#fa3c3c" stroke="#000" stroke-width="0.6"/>
<path d="M299.4 561.3 L280.1 558.3 L280.1 564.3 Z" fill="#f00082" stroke="#000" stroke-width="0.6"/>
<text x="85.2" y="572.0" font-size="7.50" font-weight="bold" text-anchor="middle" fill="#000" textLength="15.7" lengthAdjust="spacingAndGlyphs"  stroke="#000" stroke-width="0.45">−40</text>
<text x="102.9" y="572.0" font-size="7.50" font-weight="bold" text-anchor="middle" fill="#000" textLength="15.7" lengthAdjust="spacingAndGlyphs"  stroke="#000" stroke-width="0.45">−30</text>
<text x="120.7" y="572.0" font-size="7.50" font-weight="bold" text-anchor="middle" fill="#000" textLength="15.7" lengthAdjust="spacingAndGlyphs"  stroke="#000" stroke-width="0.45">−20</text>
<text x="138.4" y="572.0" font-size="7.50" font-weight="bold" text-anchor="middle" fill="#000" textLength="15.7" lengthAdjust="spacingAndGlyphs"  stroke="#000" stroke-width="0.45">−10</text>
<text x="156.1" y="572.0" font-size="7.50" font-weight="bold" text-anchor="middle" fill="#000" textLength="10.8" lengthAdjust="spacingAndGlyphs"  stroke="#000" stroke-width="0.45">−1</text>
<text x="173.8" y="572.0" font-size="7.50" font-weight="bold" text-anchor="middle" fill="#000" textLength="4.9" lengthAdjust="spacingAndGlyphs"  stroke="#000" stroke-width="0.45">1</text>
<text x="191.5" y="572.0" font-size="7.50" font-weight="bold" text-anchor="middle" fill="#000" textLength="10.8" lengthAdjust="spacingAndGlyphs"  stroke="#000" stroke-width="0.45">10</text>
<text x="209.3" y="572.0" font-size="7.50" font-weight="bold" text-anchor="middle" fill="#000" textLength="10.8" lengthAdjust="spacingAndGlyphs"  stroke="#000" stroke-width="0.45">20</text>
<text x="227.0" y="572.0" font-size="7.50" font-weight="bold" text-anchor="middle" fill="#000" textLength="10.8" lengthAdjust="spacingAndGlyphs"  stroke="#000" stroke-width="0.45">30</text>
<text x="244.7" y="572.0" font-size="7.50" font-weight="bold" text-anchor="middle" fill="#000" textLength="10.8" lengthAdjust="spacingAndGlyphs"  stroke="#000" stroke-width="0.45">40</text>
<text x="262.4" y="572.0" font-size="7.50" font-weight="bold" text-anchor="middle" fill="#000" textLength="10.8" lengthAdjust="spacingAndGlyphs"  stroke="#000" stroke-width="0.45">50</text>
<text x="280.1" y="572.0" font-size="7.50" font-weight="bold" text-anchor="middle" fill="#000" textLength="10.8" lengthAdjust="spacingAndGlyphs"  stroke="#000" stroke-width="0.45">60</text>
<text x="418.2" y="61.6" font-size="18.00" font-weight="normal" text-anchor="start" fill="#000" textLength="61.4" lengthAdjust="spacingAndGlyphs" stroke="#000" stroke-width="0.9">Sonde</text>
<text x="492.8" y="61.6" font-size="18.00" font-weight="normal" text-anchor="start" fill="#000" textLength="83.3" lengthAdjust="spacingAndGlyphs" stroke="#000" stroke-width="0.9">Tracking</text>
<text x="588.3" y="61.6" font-size="18.00" font-weight="normal" text-anchor="start" fill="#000" textLength="87.5" lengthAdjust="spacingAndGlyphs" stroke="#000" stroke-width="0.9">Forecast</text>
<defs><clipPath id="cs"><rect x="350" y="70" width="393.5" height="261.5"/></clipPath></defs>
<g clip-path="url(#cs)">
<line x1="378.1" y1="70" x2="378.1" y2="331.5" stroke="#c8c8c8" stroke-opacity="0.6" stroke-width="1" stroke-dasharray="1 4.87"/>
<line x1="406.2" y1="70" x2="406.2" y2="331.5" stroke="#c8c8c8" stroke-opacity="0.6" stroke-width="1" stroke-dasharray="1 4.87"/>
<line x1="434.3" y1="70" x2="434.3" y2="331.5" stroke="#c8c8c8" stroke-opacity="0.6" stroke-width="1" stroke-dasharray="1 4.87"/>
<line x1="462.4" y1="70" x2="462.4" y2="331.5" stroke="#c8c8c8" stroke-opacity="0.6" stroke-width="1" stroke-dasharray="1 4.87"/>
<line x1="490.5" y1="70" x2="490.5" y2="331.5" stroke="#c8c8c8" stroke-opacity="0.6" stroke-width="1" stroke-dasharray="1 4.87"/>
<line x1="518.6" y1="70" x2="518.6" y2="331.5" stroke="#c8c8c8" stroke-opacity="0.6" stroke-width="1" stroke-dasharray="1 4.87"/>
<line x1="546.8" y1="70" x2="546.8" y2="331.5" stroke="#c8c8c8" stroke-opacity="0.6" stroke-width="1" stroke-dasharray="1 4.87"/>
<line x1="574.9" y1="70" x2="574.9" y2="331.5" stroke="#c8c8c8" stroke-opacity="0.6" stroke-width="1" stroke-dasharray="1 4.87"/>
<line x1="603.0" y1="70" x2="603.0" y2="331.5" stroke="#c8c8c8" stroke-opacity="0.6" stroke-width="1" stroke-dasharray="1 4.87"/>
<line x1="631.1" y1="70" x2="631.1" y2="331.5" stroke="#c8c8c8" stroke-opacity="0.6" stroke-width="1" stroke-dasharray="1 4.87"/>
<line x1="659.2" y1="70" x2="659.2" y2="331.5" stroke="#c8c8c8" stroke-opacity="0.6" stroke-width="1" stroke-dasharray="1 4.87"/>
<line x1="687.3" y1="70" x2="687.3" y2="331.5" stroke="#c8c8c8" stroke-opacity="0.6" stroke-width="1" stroke-dasharray="1 4.87"/>
<line x1="715.4" y1="70" x2="715.4" y2="331.5" stroke="#c8c8c8" stroke-opacity="0.6" stroke-width="1" stroke-dasharray="1 4.87"/>
<line x1="350" y1="298.8" x2="743.5" y2="298.8" stroke="#c8c8c8" stroke-opacity="0.6" stroke-width="1" stroke-dasharray="1 4.87"/>
<line x1="350" y1="266.1" x2="743.5" y2="266.1" stroke="#c8c8c8" stroke-opacity="0.6" stroke-width="1" stroke-dasharray="1 4.87"/>
<line x1="350" y1="233.4" x2="743.5" y2="233.4" stroke="#c8c8c8" stroke-opacity="0.6" stroke-width="1" stroke-dasharray="1 4.87"/>
<line x1="350" y1="200.8" x2="743.5" y2="200.8" stroke="#c8c8c8" stroke-opacity="0.6" stroke-width="1" stroke-dasharray="1 4.87"/>
<line x1="350" y1="168.1" x2="743.5" y2="168.1" stroke="#c8c8c8" stroke-opacity="0.6" stroke-width="1" stroke-dasharray="1 4.87"/>
<line x1="350" y1="135.4" x2="743.5" y2="135.4" stroke="#c8c8c8" stroke-opacity="0.6" stroke-width="1" stroke-dasharray="1 4.87"/>
<line x1="350" y1="102.7" x2="743.5" y2="102.7" stroke="#c8c8c8" stroke-opacity="0.6" stroke-width="1" stroke-dasharray="1 4.87"/>
<path d="M588.4 67.6 L585.3 72.7 L581.8 76.7 L584.1 81.5 L587.8 85.3 L595.4 86.6 L603.0 87.8 L605.6 91.6 L609.4 91.9 L611.6 87.8 L609.4 84.1 L606.8 80.3 L605.1 75.2 L605.6 67.6M615.2 67.6 L618.2 77.7 L619.5 85.3 L617.0 92.9 L613.2 98.0 L612.7 100.5 L617.0 100.5 L623.3 96.7 L629.6 92.9 L634.7 87.8 L635.9 84.1 L633.4 81.5 L632.2 77.7 L635.9 75.2 L641.0 73.9 L646.1 76.5 L649.9 73.9 L653.2 67.6M633.4 114.4 L630.9 115.7 L628.9 123.3 L627.1 130.9 L623.3 137.2 L622.8 142.3 L625.3 144.1 L628.4 142.3 L630.4 135.9 L633.4 128.4 L635.2 122.0 L635.2 116.2 L633.4 114.4M600.5 138.5 L596.2 143.5 L598.0 151.1 L604.3 153.2 L610.6 150.6 L612.4 144.8 L609.4 140.5 L604.3 139.2 L600.5 138.5M526.8 282.5 L531.4 282.5 L532.0 279.8 L534.0 277.2 L537.3 275.3 L541.2 275.3 L544.4 272.0 L546.4 272.6 L549.0 269.4 L551.6 268.1 L552.9 267.4 L553.6 270.0 L555.6 267.4 L556.9 266.5 L558.6 268.1 L558.2 270.7 L556.2 272.0 L553.6 273.3 L550.3 276.6 L547.1 279.8 L543.8 282.5 L544.7 285.3 L541.8 287.7 L539.9 290.9 L537.3 289.6 L534.0 287.7 L532.0 285.1 L530.1 283.8 L526.8 282.5M529.4 286.4 L529.0 289.0 L531.4 291.6 L535.3 293.2 L538.6 293.6 L535.9 291.6 L532.7 289.6 L530.7 287.4 L529.4 286.4M513.7 304.7 L512.0 307.3 L511.5 312.5 L512.4 317.1 L515.0 319.7 L517.6 318.4 L519.6 315.1 L519.3 311.2 L517.6 308.6 L516.7 306.0 L513.7 304.7M571.2 280.1 L573.2 276.6 L575.2 275.3 L574.9 279.8 L571.2 280.1" fill="none" stroke="#000" stroke-width="1.25" stroke-linejoin="round"/>
</g>
<path d="M499.5 209.0 C499.7 209.4 500.0 210.7 500.8 211.3 C501.5 211.9 502.5 212.5 503.8 212.6 C505.1 212.7 506.3 212.6 508.4 212.1 C510.4 211.5 512.6 210.9 515.9 209.3 C519.3 207.7 524.4 204.8 528.6 202.5 C532.8 200.1 537.0 197.4 541.3 195.1 C545.5 192.8 549.7 190.6 553.9 188.5 C558.1 186.5 562.8 184.3 566.6 182.7 C570.4 181.1 573.8 180.0 576.7 178.9 C579.7 177.9 583.0 176.8 584.3 176.4" fill="none" stroke="#f08228" stroke-width="1.4"/>
<path d="M499.5 208.4 C499.7 208.8 500.0 210.1 500.8 210.7 C501.5 211.3 502.5 211.9 503.8 212.0 C505.1 212.1 506.3 212.0 508.4 211.5 C510.4 210.9 512.6 210.3 515.9 208.7 C519.3 207.1 524.4 204.2 528.6 201.9 C532.8 199.5 537.0 196.8 541.3 194.5 C545.5 192.2 549.7 190.0 553.9 187.9 C558.1 185.9 562.8 183.7 566.6 182.1 C570.4 180.5 573.8 179.4 576.7 178.3 C579.7 177.3 583.0 176.2 584.3 175.8" fill="none" stroke="#000" stroke-width="1.5"/>
<path d="M499.5 207.5 C499.7 207.9 500.0 209.2 500.8 209.8 C501.5 210.4 502.5 211.0 503.8 211.1 C505.1 211.2 506.3 211.1 508.4 210.6 C510.4 210.0 512.6 209.4 515.9 207.8 C519.3 206.2 524.4 203.3 528.6 201.0 C532.8 198.6 537.0 195.9 541.3 193.6 C545.5 191.3 549.7 189.1 553.9 187.0 C558.1 185.0 562.8 182.8 566.6 181.2 C570.4 179.6 573.8 178.5 576.7 177.4 C579.7 176.4 583.0 175.3 584.3 174.9" fill="none" stroke="#a000c8" stroke-width="1.3"/>
<path d="M499.5 206.5 C499.7 206.9 500.0 208.2 500.8 208.8 C501.5 209.4 502.5 210.0 503.8 210.1 C505.1 210.2 506.3 210.1 508.4 209.6 C510.4 209.0 512.6 208.4 515.9 206.8 C519.3 205.2 524.4 202.3 528.6 200.0 C532.8 197.6 537.0 194.9 541.3 192.6 C545.5 190.3 549.7 188.1 553.9 186.0 C558.1 184.0 562.8 181.8 566.6 180.2 C570.4 178.6 573.8 177.5 576.7 176.4 C579.7 175.4 583.0 174.3 584.3 173.9" fill="none" stroke="#1e3cff" stroke-width="1.5"/>
<path d="M584.1 173.9 C588.5 172.2 602.0 167.3 610.6 163.8 C619.3 160.2 627.5 156.7 635.9 152.4 C644.4 148.1 652.8 142.8 661.3 137.9 C669.7 133.0 679.8 126.7 686.6 123.0 C693.3 119.3 697.6 117.3 701.8 115.7 C706.0 114.0 709.7 113.4 711.9 113.1 C714.1 112.8 714.4 113.8 714.9 113.9" fill="none" stroke="#f08228" stroke-width="1.3" stroke-dasharray="3.2 1.4"/>
<path d="M583.3 177.2 C587.8 175.6 601.9 171.1 610.6 167.6 C619.4 164.1 627.5 160.4 635.9 156.2 C644.4 152.0 652.8 147.1 661.3 142.3 C669.7 137.5 679.8 130.8 686.6 127.3 C693.3 123.8 697.6 122.6 701.8 121.3 C706.0 120.0 709.7 119.6 711.9 119.5 C714.1 119.4 714.4 120.5 714.9 120.8" fill="none" stroke="#000" stroke-width="1.4" stroke-dasharray="3.2 1.4"/>
<path d="M584.1 175.2 C588.5 173.5 602.0 168.6 610.6 165.1 C619.3 161.5 627.5 158.0 635.9 153.7 C644.4 149.4 652.8 144.1 661.3 139.2 C669.7 134.3 679.8 128.0 686.6 124.3 C693.3 120.6 697.6 118.6 701.8 117.0 C706.0 115.3 709.7 114.7 711.9 114.4 C714.1 114.1 714.4 115.1 714.9 115.2" fill="none" stroke="#a000c8" stroke-width="1.5" stroke-dasharray="3.2 1.4"/>
<path d="M585.3 172.2 C589.5 170.5 602.2 166.2 610.6 162.5 C619.1 158.9 627.5 154.9 635.9 150.4 C644.4 145.9 652.8 140.5 661.3 135.4 C669.7 130.4 679.8 124.1 686.6 120.3 C693.3 116.4 697.6 114.3 701.8 112.4 C706.0 110.5 709.5 109.5 711.9 108.6 C714.3 107.7 715.2 108.0 715.9 107.1 C716.7 106.2 716.4 103.7 716.5 103.0" fill="none" stroke="#1e3cff" stroke-width="1.4" stroke-dasharray="3.2 1.4"/>
<rect x="580.5" y="174.7" width="5.6" height="5" fill="#000"/>
<rect x="582.0" y="172.1" width="4.6" height="4.6" fill="#a000c8"/>
<rect x="582.8" y="169.8" width="5" height="4.4" fill="#1e3cff"/>
<circle cx="714.9" cy="120.8" r="2.7" fill="#000"/>
<circle cx="714.9" cy="115.2" r="2.7" fill="#a000c8"/>
<circle cx="716.5" cy="102.5" r="2.7" fill="#1e3cff"/>
<rect x="350" y="70" width="393.5" height="261.5" fill="none" stroke="#000" stroke-width="2"/>
<line x1="350.0" y1="331.5" x2="350.0" y2="335.5" stroke="#000" stroke-width="1.4"/>
<text x="350.0" y="342.9" font-size="9.60" font-weight="bold" text-anchor="middle" fill="#000" textLength="19.5" lengthAdjust="spacingAndGlyphs"  stroke="#000" stroke-width="0.45">126E</text>
<line x1="378.1" y1="331.5" x2="378.1" y2="335.5" stroke="#000" stroke-width="1.4"/>
<text x="378.1" y="342.9" font-size="9.60" font-weight="bold" text-anchor="middle" fill="#000" textLength="27.5" lengthAdjust="spacingAndGlyphs"  stroke="#000" stroke-width="0.45">126.5E</text>
<line x1="406.2" y1="331.5" x2="406.2" y2="335.5" stroke="#000" stroke-width="1.4"/>
<text x="406.2" y="342.9" font-size="9.60" font-weight="bold" text-anchor="middle" fill="#000" textLength="19.5" lengthAdjust="spacingAndGlyphs"  stroke="#000" stroke-width="0.45">127E</text>
<line x1="434.3" y1="331.5" x2="434.3" y2="335.5" stroke="#000" stroke-width="1.4"/>
<text x="434.3" y="342.9" font-size="9.60" font-weight="bold" text-anchor="middle" fill="#000" textLength="27.5" lengthAdjust="spacingAndGlyphs"  stroke="#000" stroke-width="0.45">127.5E</text>
<line x1="462.4" y1="331.5" x2="462.4" y2="335.5" stroke="#000" stroke-width="1.4"/>
<text x="462.4" y="342.9" font-size="9.60" font-weight="bold" text-anchor="middle" fill="#000" textLength="19.5" lengthAdjust="spacingAndGlyphs"  stroke="#000" stroke-width="0.45">128E</text>
<line x1="490.5" y1="331.5" x2="490.5" y2="335.5" stroke="#000" stroke-width="1.4"/>
<text x="490.5" y="342.9" font-size="9.60" font-weight="bold" text-anchor="middle" fill="#000" textLength="27.5" lengthAdjust="spacingAndGlyphs"  stroke="#000" stroke-width="0.45">128.5E</text>
<line x1="518.6" y1="331.5" x2="518.6" y2="335.5" stroke="#000" stroke-width="1.4"/>
<text x="518.6" y="342.9" font-size="9.60" font-weight="bold" text-anchor="middle" fill="#000" textLength="19.5" lengthAdjust="spacingAndGlyphs"  stroke="#000" stroke-width="0.45">129E</text>
<line x1="546.8" y1="331.5" x2="546.8" y2="335.5" stroke="#000" stroke-width="1.4"/>
<text x="546.8" y="342.9" font-size="9.60" font-weight="bold" text-anchor="middle" fill="#000" textLength="27.5" lengthAdjust="spacingAndGlyphs"  stroke="#000" stroke-width="0.45">129.5E</text>
<line x1="574.9" y1="331.5" x2="574.9" y2="335.5" stroke="#000" stroke-width="1.4"/>
<text x="574.9" y="342.9" font-size="9.60" font-weight="bold" text-anchor="middle" fill="#000" textLength="19.5" lengthAdjust="spacingAndGlyphs"  stroke="#000" stroke-width="0.45">130E</text>
<line x1="603.0" y1="331.5" x2="603.0" y2="335.5" stroke="#000" stroke-width="1.4"/>
<text x="603.0" y="342.9" font-size="9.60" font-weight="bold" text-anchor="middle" fill="#000" textLength="27.5" lengthAdjust="spacingAndGlyphs"  stroke="#000" stroke-width="0.45">130.5E</text>
<line x1="631.1" y1="331.5" x2="631.1" y2="335.5" stroke="#000" stroke-width="1.4"/>
<text x="631.1" y="342.9" font-size="9.60" font-weight="bold" text-anchor="middle" fill="#000" textLength="19.5" lengthAdjust="spacingAndGlyphs"  stroke="#000" stroke-width="0.45">131E</text>
<line x1="659.2" y1="331.5" x2="659.2" y2="335.5" stroke="#000" stroke-width="1.4"/>
<text x="659.2" y="342.9" font-size="9.60" font-weight="bold" text-anchor="middle" fill="#000" textLength="27.5" lengthAdjust="spacingAndGlyphs"  stroke="#000" stroke-width="0.45">131.5E</text>
<line x1="687.3" y1="331.5" x2="687.3" y2="335.5" stroke="#000" stroke-width="1.4"/>
<text x="687.3" y="342.9" font-size="9.60" font-weight="bold" text-anchor="middle" fill="#000" textLength="19.5" lengthAdjust="spacingAndGlyphs"  stroke="#000" stroke-width="0.45">132E</text>
<line x1="715.4" y1="331.5" x2="715.4" y2="335.5" stroke="#000" stroke-width="1.4"/>
<text x="715.4" y="342.9" font-size="9.60" font-weight="bold" text-anchor="middle" fill="#000" textLength="27.5" lengthAdjust="spacingAndGlyphs"  stroke="#000" stroke-width="0.45">132.5E</text>
<line x1="743.5" y1="331.5" x2="743.5" y2="335.5" stroke="#000" stroke-width="1.4"/>
<text x="743.5" y="342.9" font-size="9.60" font-weight="bold" text-anchor="middle" fill="#000" textLength="19.5" lengthAdjust="spacingAndGlyphs"  stroke="#000" stroke-width="0.45">133E</text>
<line x1="346" y1="331.5" x2="350" y2="331.5" stroke="#000" stroke-width="1.4"/>
<text x="345.3" y="335.3" font-size="9.60" font-weight="bold" text-anchor="end" fill="#000" textLength="24.0" lengthAdjust="spacingAndGlyphs"  stroke="#000" stroke-width="0.45">27.5N</text>
<line x1="346" y1="298.8" x2="350" y2="298.8" stroke="#000" stroke-width="1.4"/>
<text x="345.3" y="302.6" font-size="9.60" font-weight="bold" text-anchor="end" fill="#000" textLength="16.0" lengthAdjust="spacingAndGlyphs"  stroke="#000" stroke-width="0.45">28N</text>
<line x1="346" y1="266.1" x2="350" y2="266.1" stroke="#000" stroke-width="1.4"/>
<text x="345.3" y="269.9" font-size="9.60" font-weight="bold" text-anchor="end" fill="#000" textLength="24.0" lengthAdjust="spacingAndGlyphs"  stroke="#000" stroke-width="0.45">28.5N</text>
<line x1="346" y1="233.4" x2="350" y2="233.4" stroke="#000" stroke-width="1.4"/>
<text x="345.3" y="237.2" font-size="9.60" font-weight="bold" text-anchor="end" fill="#000" textLength="16.0" lengthAdjust="spacingAndGlyphs"  stroke="#000" stroke-width="0.45">29N</text>
<line x1="346" y1="200.8" x2="350" y2="200.8" stroke="#000" stroke-width="1.4"/>
<text x="345.3" y="204.6" font-size="9.60" font-weight="bold" text-anchor="end" fill="#000" textLength="24.0" lengthAdjust="spacingAndGlyphs"  stroke="#000" stroke-width="0.45">29.5N</text>
<line x1="346" y1="168.1" x2="350" y2="168.1" stroke="#000" stroke-width="1.4"/>
<text x="345.3" y="171.9" font-size="9.60" font-weight="bold" text-anchor="end" fill="#000" textLength="16.0" lengthAdjust="spacingAndGlyphs"  stroke="#000" stroke-width="0.45">30N</text>
<line x1="346" y1="135.4" x2="350" y2="135.4" stroke="#000" stroke-width="1.4"/>
<text x="345.3" y="139.2" font-size="9.60" font-weight="bold" text-anchor="end" fill="#000" textLength="24.0" lengthAdjust="spacingAndGlyphs"  stroke="#000" stroke-width="0.45">30.5N</text>
<line x1="346" y1="102.7" x2="350" y2="102.7" stroke="#000" stroke-width="1.4"/>
<text x="345.3" y="106.5" font-size="9.60" font-weight="bold" text-anchor="end" fill="#000" textLength="16.0" lengthAdjust="spacingAndGlyphs"  stroke="#000" stroke-width="0.45">31N</text>
<line x1="346" y1="70.0" x2="350" y2="70.0" stroke="#000" stroke-width="1.4"/>
<text x="345.3" y="73.8" font-size="9.60" font-weight="bold" text-anchor="end" fill="#000" textLength="24.0" lengthAdjust="spacingAndGlyphs"  stroke="#000" stroke-width="0.45">31.5N</text>
<text x="357.0" y="84.4" font-size="12.00" font-weight="normal" text-anchor="start" fill="#000" textLength="34.0" lengthAdjust="spacingAndGlyphs" >(21Z)</text>
<text x="399.0" y="84.4" font-size="12.00" font-weight="normal" text-anchor="start" fill="#000" textLength="107.6" lengthAdjust="spacingAndGlyphs" >06JST,11JAN2018</text>
<text x="357.0" y="96.0" font-size="12.00" font-weight="normal" text-anchor="start" fill="#a000c8" textLength="34.0" lengthAdjust="spacingAndGlyphs" >(00Z)</text>
<text x="399.0" y="96.0" font-size="12.00" font-weight="normal" text-anchor="start" fill="#a000c8" textLength="76.0" lengthAdjust="spacingAndGlyphs" >09JST,11JAN</text>
<text x="357.0" y="107.5" font-size="12.00" font-weight="normal" text-anchor="start" fill="#1e3cff" textLength="34.0" lengthAdjust="spacingAndGlyphs" >(03Z)</text>
<text x="399.0" y="107.5" font-size="12.00" font-weight="normal" text-anchor="start" fill="#1e3cff" textLength="76.0" lengthAdjust="spacingAndGlyphs" >12JST,11JAN</text>
<text x="357.0" y="119.1" font-size="12.00" font-weight="normal" text-anchor="start" fill="#00dc00" textLength="34.0" lengthAdjust="spacingAndGlyphs" >(06Z)</text>
<text x="399.0" y="119.1" font-size="12.00" font-weight="normal" text-anchor="start" fill="#00dc00" textLength="76.0" lengthAdjust="spacingAndGlyphs" >15JST,11JAN</text>
<text x="357.0" y="130.6" font-size="12.00" font-weight="normal" text-anchor="start" fill="#e6dc32" textLength="34.0" lengthAdjust="spacingAndGlyphs" >(09Z)</text>
<text x="399.0" y="130.6" font-size="12.00" font-weight="normal" text-anchor="start" fill="#e6dc32" textLength="76.0" lengthAdjust="spacingAndGlyphs" >18JST,11JAN</text>
<text x="357.0" y="142.2" font-size="12.00" font-weight="normal" text-anchor="start" fill="#f08228" textLength="34.0" lengthAdjust="spacingAndGlyphs" >(12Z)</text>
<text x="399.0" y="142.2" font-size="12.00" font-weight="normal" text-anchor="start" fill="#f08228" textLength="76.0" lengthAdjust="spacingAndGlyphs" >21JST,11JAN</text>
<text x="736.0" y="308.8" font-size="9.00" font-weight="normal" text-anchor="end" fill="#000" textLength="86.5" lengthAdjust="spacingAndGlyphs" >VUP=  6.0  m/s</text>
<text x="736.0" y="318.3" font-size="9.00" font-weight="normal" text-anchor="end" fill="#000" textLength="96.6" lengthAdjust="spacingAndGlyphs" >VDW=  -4.0  m/s</text>
<text x="736.0" y="328.0" font-size="9.00" font-weight="normal" text-anchor="end" fill="#000" textLength="113.2" lengthAdjust="spacingAndGlyphs" >Burst Alt=  18.0  km</text>
<defs><clipPath id="ch1"><rect x="330" y="366" width="197" height="191"/></clipPath></defs>
<g clip-path="url(#ch1)">
<circle cx="428.8" cy="461.5" r="24.45" fill="none" stroke="#000" stroke-width="1"/>
<circle cx="428.8" cy="461.5" r="48.90" fill="none" stroke="#000" stroke-width="1"/>
<circle cx="428.8" cy="461.5" r="73.35" fill="none" stroke="#000" stroke-width="1"/>
<circle cx="428.8" cy="461.5" r="97.80" fill="none" stroke="#000" stroke-width="1"/>
<line x1="330" y1="461.5" x2="527" y2="461.5" stroke="#000" stroke-width="1"/>
<line x1="428.8" y1="366" x2="428.8" y2="557" stroke="#000" stroke-width="1"/>
<path d="M331.0 459.5 V463.5M426.8 363.7 H430.8M339.1 459.5 V463.5M426.8 371.9 H430.8M347.3 459.5 V463.5M426.8 380.0 H430.8M355.4 459.5 V463.5M426.8 388.1 H430.8M363.6 459.5 V463.5M426.8 396.3 H430.8M371.8 459.5 V463.5M426.8 404.4 H430.8M379.9 459.5 V463.5M426.8 412.6 H430.8M388.1 459.5 V463.5M426.8 420.8 H430.8M396.2 459.5 V463.5M426.8 428.9 H430.8M404.4 459.5 V463.5M426.8 437.1 H430.8M412.5 459.5 V463.5M426.8 445.2 H430.8M420.7 459.5 V463.5M426.8 453.4 H430.8M436.9 459.5 V463.5M426.8 469.6 H430.8M445.1 459.5 V463.5M426.8 477.8 H430.8M453.2 459.5 V463.5M426.8 485.9 H430.8M461.4 459.5 V463.5M426.8 494.1 H430.8M469.6 459.5 V463.5M426.8 502.2 H430.8M477.7 459.5 V463.5M426.8 510.4 H430.8M485.9 459.5 V463.5M426.8 518.5 H430.8M494.0 459.5 V463.5M426.8 526.7 H430.8M502.2 459.5 V463.5M426.8 534.9 H430.8M510.3 459.5 V463.5M426.8 543.0 H430.8M518.5 459.5 V463.5M426.8 551.1 H430.8M526.6 459.5 V463.5M426.8 559.3 H430.8" stroke="#000" stroke-width="1" fill="none"/>
</g>
<g transform="translate(411.5 478.8) rotate(-45)"><rect x="-6.5" y="-4.4" width="13" height="8.8" fill="#fff"/><text x="0" y="3.5" font-size="10" text-anchor="middle" textLength="12" lengthAdjust="spacingAndGlyphs">15</text></g>
<g transform="translate(394.2 496.1) rotate(-45)"><rect x="-6.5" y="-4.4" width="13" height="8.8" fill="#fff"/><text x="0" y="3.5" font-size="10" text-anchor="middle" textLength="12" lengthAdjust="spacingAndGlyphs">30</text></g>
<g transform="translate(376.9 513.4) rotate(-45)"><rect x="-6.5" y="-4.4" width="13" height="8.8" fill="#fff"/><text x="0" y="3.5" font-size="10" text-anchor="middle" textLength="12" lengthAdjust="spacingAndGlyphs">45</text></g>
<g transform="translate(359.6 530.7) rotate(-45)"><rect x="-6.5" y="-4.4" width="13" height="8.8" fill="#fff"/><text x="0" y="3.5" font-size="10" text-anchor="middle" textLength="12" lengthAdjust="spacingAndGlyphs">60</text></g>
<path d="M442.2 472.5 L462.3 467.8" fill="none" stroke="#f08228" stroke-width="1.6" stroke-linejoin="round" stroke-linecap="round"/>
<path d="M462.3 467.8 L472.4 460.8 L499.1 441.4" fill="none" stroke="#e6dc32" stroke-width="1.6" stroke-linejoin="round" stroke-linecap="round"/>
<path d="M499.1 441.4 L538.7 400.2" fill="none" stroke="#00dc00" stroke-width="1.6" stroke-linejoin="round" stroke-linecap="round"/>
<path d="M536.0 402.9 L539.3 399.2 L544.7 398.5" fill="none" stroke="#00dc00" stroke-width="2.2" stroke-linejoin="round" stroke-linecap="round"/>
<path d="M499.1 443.7 L529.3 425.3" fill="none" stroke="#00c8c8" stroke-width="1.6" stroke-linejoin="round" stroke-linecap="round"/>
<path d="M525.9 427.3 L544.7 415.9" fill="none" stroke="#00c8c8" stroke-width="2.2" stroke-linejoin="round" stroke-linecap="round"/>
<path d="M431.5 457.1 L450.6 459.8 L499.1 443.7" fill="none" stroke="#1e3cff" stroke-width="1.8" stroke-linejoin="round" stroke-linecap="round"/>
<circle cx="442.2" cy="473.9" r="1.6" fill="#fa3c3c"/>
<circle cx="431.5" cy="457.1" r="1.6" fill="#1e3cff"/>
<rect x="330" y="366" width="197" height="191" fill="none" stroke="#000" stroke-width="2"/>
<text x="334.0" y="378.4" font-size="11.50" font-weight="normal" text-anchor="start" fill="#000" textLength="42.0" lengthAdjust="spacingAndGlyphs" >06JST</text>
<text x="523.3" y="378.4" font-size="11.50" font-weight="normal" text-anchor="end" fill="#000" textLength="41.6" lengthAdjust="spacingAndGlyphs" >11JAN</text>
<text x="335.0" y="550.0" font-size="8.50" font-weight="normal" text-anchor="start" fill="#000" textLength="27.8" lengthAdjust="spacingAndGlyphs" >ms-1</text>
<text x="523.3" y="544.9" font-size="9.00" font-weight="bold" text-anchor="end" fill="#000" textLength="29.8" lengthAdjust="spacingAndGlyphs"  stroke="#000" stroke-width="0.45">29.4N</text>
<text x="523.3" y="553.6" font-size="9.00" font-weight="bold" text-anchor="end" fill="#000" textLength="47.6" lengthAdjust="spacingAndGlyphs"  stroke="#000" stroke-width="0.45">128.625E</text>
<text x="333.8" y="470.1" font-size="7.20" font-weight="normal" text-anchor="start" fill="#fa3c3c" textLength="37.2" lengthAdjust="spacingAndGlyphs" stroke="#fa3c3c" stroke-width="0.4">≥850hPa</text>
<text x="333.8" y="476.4" font-size="7.20" font-weight="normal" text-anchor="start" fill="#f08228" textLength="21.0" lengthAdjust="spacingAndGlyphs" stroke="#f08228" stroke-width="0.4">&lt;850</text>
<text x="333.8" y="482.7" font-size="7.20" font-weight="normal" text-anchor="start" fill="#e6dc32" textLength="21.0" lengthAdjust="spacingAndGlyphs" stroke="#e6dc32" stroke-width="0.4">&lt;700</text>
<text x="333.8" y="489.0" font-size="7.20" font-weight="normal" text-anchor="start" fill="#00dc00" textLength="21.0" lengthAdjust="spacingAndGlyphs" stroke="#00dc00" stroke-width="0.4">&lt;500</text>
<text x="333.8" y="495.3" font-size="7.20" font-weight="normal" text-anchor="start" fill="#00c8c8" textLength="21.0" lengthAdjust="spacingAndGlyphs" stroke="#00c8c8" stroke-width="0.4">&lt;250</text>
<text x="333.8" y="501.6" font-size="7.20" font-weight="normal" text-anchor="start" fill="#1e3cff" textLength="21.0" lengthAdjust="spacingAndGlyphs" stroke="#1e3cff" stroke-width="0.4">&lt;100</text>
<defs><clipPath id="ch2"><rect x="546" y="366" width="197.3" height="191"/></clipPath></defs>
<g clip-path="url(#ch2)">
<circle cx="644.8" cy="461.5" r="24.45" fill="none" stroke="#000" stroke-width="1"/>
<circle cx="644.8" cy="461.5" r="48.90" fill="none" stroke="#000" stroke-width="1"/>
<circle cx="644.8" cy="461.5" r="73.35" fill="none" stroke="#000" stroke-width="1"/>
<circle cx="644.8" cy="461.5" r="97.80" fill="none" stroke="#000" stroke-width="1"/>
<line x1="546" y1="461.5" x2="743.3" y2="461.5" stroke="#000" stroke-width="1"/>
<line x1="644.8" y1="366" x2="644.8" y2="557" stroke="#000" stroke-width="1"/>
<path d="M547.0 459.5 V463.5M642.8 363.7 H646.8M555.1 459.5 V463.5M642.8 371.9 H646.8M563.3 459.5 V463.5M642.8 380.0 H646.8M571.4 459.5 V463.5M642.8 388.1 H646.8M579.6 459.5 V463.5M642.8 396.3 H646.8M587.8 459.5 V463.5M642.8 404.4 H646.8M595.9 459.5 V463.5M642.8 412.6 H646.8M604.0 459.5 V463.5M642.8 420.8 H646.8M612.2 459.5 V463.5M642.8 428.9 H646.8M620.3 459.5 V463.5M642.8 437.1 H646.8M628.5 459.5 V463.5M642.8 445.2 H646.8M636.6 459.5 V463.5M642.8 453.4 H646.8M652.9 459.5 V463.5M642.8 469.6 H646.8M661.1 459.5 V463.5M642.8 477.8 H646.8M669.2 459.5 V463.5M642.8 485.9 H646.8M677.4 459.5 V463.5M642.8 494.1 H646.8M685.5 459.5 V463.5M642.8 502.2 H646.8M693.7 459.5 V463.5M642.8 510.4 H646.8M701.8 459.5 V463.5M642.8 518.5 H646.8M710.0 459.5 V463.5M642.8 526.7 H646.8M718.1 459.5 V463.5M642.8 534.9 H646.8M726.3 459.5 V463.5M642.8 543.0 H646.8M734.4 459.5 V463.5M642.8 551.1 H646.8M742.6 459.5 V463.5M642.8 559.3 H646.8" stroke="#000" stroke-width="1" fill="none"/>
</g>
<g transform="translate(627.5 478.8) rotate(-45)"><rect x="-6.5" y="-4.4" width="13" height="8.8" fill="#fff"/><text x="0" y="3.5" font-size="10" text-anchor="middle" textLength="12" lengthAdjust="spacingAndGlyphs">15</text></g>
<g transform="translate(610.2 496.1) rotate(-45)"><rect x="-6.5" y="-4.4" width="13" height="8.8" fill="#fff"/><text x="0" y="3.5" font-size="10" text-anchor="middle" textLength="12" lengthAdjust="spacingAndGlyphs">30</text></g>
<g transform="translate(592.9 513.4) rotate(-45)"><rect x="-6.5" y="-4.4" width="13" height="8.8" fill="#fff"/><text x="0" y="3.5" font-size="10" text-anchor="middle" textLength="12" lengthAdjust="spacingAndGlyphs">45</text></g>
<g transform="translate(575.6 530.7) rotate(-45)"><rect x="-6.5" y="-4.4" width="13" height="8.8" fill="#fff"/><text x="0" y="3.5" font-size="10" text-anchor="middle" textLength="12" lengthAdjust="spacingAndGlyphs">60</text></g>
<path d="M661.2 476.2 L681.3 468.8" fill="none" stroke="#f08228" stroke-width="1.6" stroke-linejoin="round" stroke-linecap="round"/>
<path d="M681.3 468.8 L687.6 461.3 L727.5 442.7" fill="none" stroke="#e6dc32" stroke-width="1.6" stroke-linejoin="round" stroke-linecap="round"/>
<path d="M727.5 442.7 L740.9 422.0 L751.0 410.9" fill="none" stroke="#00dc00" stroke-width="1.6" stroke-linejoin="round" stroke-linecap="round"/>
<path d="M748.3 413.6 L757.0 403.5" fill="none" stroke="#00dc00" stroke-width="2.4" stroke-linejoin="round" stroke-linecap="round"/>
<path d="M714.8 437.0 L740.9 425.3 L747.6 422.3" fill="none" stroke="#00c8c8" stroke-width="1.6" stroke-linejoin="round" stroke-linecap="round"/>
<path d="M745.0 423.6 L757.0 417.6" fill="none" stroke="#00c8c8" stroke-width="2.2" stroke-linejoin="round" stroke-linecap="round"/>
<path d="M651.5 463.1 L665.6 464.8 L714.8 437.0" fill="none" stroke="#1e3cff" stroke-width="1.8" stroke-linejoin="round" stroke-linecap="round"/>
<circle cx="661.2" cy="476.2" r="1.6" fill="#fa3c3c"/>
<circle cx="651.5" cy="463.1" r="1.6" fill="#1e3cff"/>
<rect x="546" y="366" width="197.3" height="191" fill="none" stroke="#000" stroke-width="2"/>
<text x="550.0" y="378.4" font-size="11.50" font-weight="normal" text-anchor="start" fill="#000" textLength="42.0" lengthAdjust="spacingAndGlyphs" >18JST</text>
<text x="739.6" y="378.4" font-size="11.50" font-weight="normal" text-anchor="end" fill="#000" textLength="41.6" lengthAdjust="spacingAndGlyphs" >11JAN</text>
<text x="551.0" y="550.0" font-size="8.50" font-weight="normal" text-anchor="start" fill="#000" textLength="27.8" lengthAdjust="spacingAndGlyphs" >ms-1</text>
<text x="739.6" y="544.9" font-size="9.00" font-weight="bold" text-anchor="end" fill="#000" textLength="29.8" lengthAdjust="spacingAndGlyphs"  stroke="#000" stroke-width="0.45">29.4N</text>
<text x="739.6" y="553.6" font-size="9.00" font-weight="bold" text-anchor="end" fill="#000" textLength="47.6" lengthAdjust="spacingAndGlyphs"  stroke="#000" stroke-width="0.45">128.625E</text>
<text x="549.8" y="470.1" font-size="7.20" font-weight="normal" text-anchor="start" fill="#fa3c3c" textLength="37.2" lengthAdjust="spacingAndGlyphs" stroke="#fa3c3c" stroke-width="0.4">≥850hPa</text>
<text x="549.8" y="476.4" font-size="7.20" font-weight="normal" text-anchor="start" fill="#f08228" textLength="21.0" lengthAdjust="spacingAndGlyphs" stroke="#f08228" stroke-width="0.4">&lt;850</text>
<text x="549.8" y="482.7" font-size="7.20" font-weight="normal" text-anchor="start" fill="#e6dc32" textLength="21.0" lengthAdjust="spacingAndGlyphs" stroke="#e6dc32" stroke-width="0.4">&lt;700</text>
<text x="549.8" y="489.0" font-size="7.20" font-weight="normal" text-anchor="start" fill="#00dc00" textLength="21.0" lengthAdjust="spacingAndGlyphs" stroke="#00dc00" stroke-width="0.4">&lt;500</text>
<text x="549.8" y="495.3" font-size="7.20" font-weight="normal" text-anchor="start" fill="#00c8c8" textLength="21.0" lengthAdjust="spacingAndGlyphs" stroke="#00c8c8" stroke-width="0.4">&lt;250</text>
<text x="549.8" y="501.6" font-size="7.20" font-weight="normal" text-anchor="start" fill="#1e3cff" textLength="21.0" lengthAdjust="spacingAndGlyphs" stroke="#1e3cff" stroke-width="0.4">&lt;100</text>
</svg>
</body></html>
